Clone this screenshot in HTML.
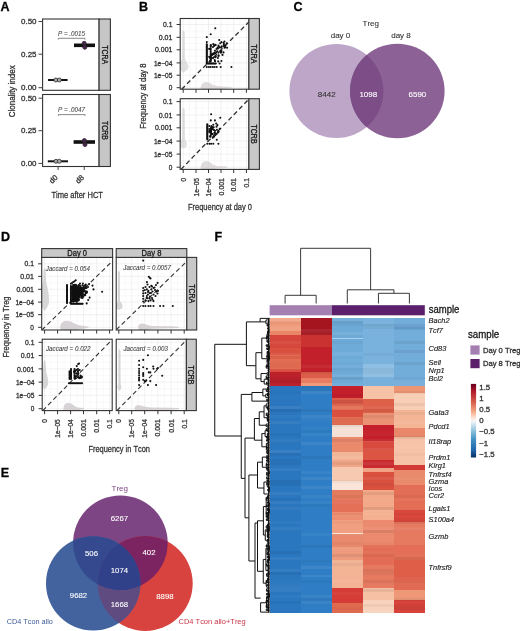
<!DOCTYPE html>
<html><head><meta charset="utf-8"><style>
html,body{margin:0;padding:0;background:#fff;}
svg{display:block;will-change:transform;filter:blur(0.35px);}
text{font-family:"Liberation Sans", sans-serif;font-variant-ligatures:none;font-kerning:none;}
.e{stroke-width:0.25px;paint-order:stroke;}
</style></head><body>
<svg width="520" height="631" viewBox="0 0 520 631">
<rect x="0" y="0" width="520" height="631" fill="#fff"/>
<text x="0.60" y="11.00" font-size="12.5" text-anchor="start" fill="#000" font-weight="bold" stroke="#000" stroke-width="0.3" >A</text>
<text x="139.00" y="11.00" font-size="12.5" text-anchor="start" fill="#000" font-weight="bold" stroke="#000" stroke-width="0.3" >B</text>
<text x="293.50" y="11.20" font-size="12.5" text-anchor="start" fill="#000" font-weight="bold" stroke="#000" stroke-width="0.3" >C</text>
<text x="1.00" y="241.00" font-size="12.5" text-anchor="start" fill="#000" font-weight="bold" stroke="#000" stroke-width="0.3" >D</text>
<text x="0.80" y="477.00" font-size="12.5" text-anchor="start" fill="#000" font-weight="bold" stroke="#000" stroke-width="0.3" >E</text>
<text x="214.50" y="241.00" font-size="12.5" text-anchor="start" fill="#000" font-weight="bold" stroke="#000" stroke-width="0.3" >F</text>
<text x="15.50" y="91.30" font-size="9.5" text-anchor="middle" fill="#333" stroke="#333" stroke-width="0.3" textLength="52" lengthAdjust="spacingAndGlyphs" transform="rotate(-90 15.50 91.30)" >Clonality index</text>
<rect x="42.60" y="19.00" width="56.50" height="71.30" fill="#fff" stroke="#333" stroke-width="1.1" />
<rect x="99.10" y="19.00" width="11.30" height="71.30" fill="#c6c6c6" stroke="#333" stroke-width="1.1" />
<text x="102.40" y="54.65" font-size="8.4" text-anchor="middle" fill="#1a1a1a" stroke="#1a1a1a" stroke-width="0.3" textLength="18.8" lengthAdjust="spacingAndGlyphs" transform="rotate(90 102.40 54.65)" >TCRA</text>
<line x1="38.50" y1="21.50" x2="42.60" y2="21.50" stroke="#444" stroke-width="1" />
<text x="36.50" y="24.20" font-size="8" text-anchor="end" fill="#333" stroke="#333" stroke-width="0.3" textLength="15.5" lengthAdjust="spacingAndGlyphs" >0.50</text>
<line x1="38.50" y1="54.20" x2="42.60" y2="54.20" stroke="#444" stroke-width="1" />
<text x="36.50" y="56.90" font-size="8" text-anchor="end" fill="#333" stroke="#333" stroke-width="0.3" textLength="15.5" lengthAdjust="spacingAndGlyphs" >0.25</text>
<line x1="38.50" y1="87.70" x2="42.60" y2="87.70" stroke="#444" stroke-width="1" />
<text x="36.50" y="90.40" font-size="8" text-anchor="end" fill="#333" stroke="#333" stroke-width="0.3" textLength="15.5" lengthAdjust="spacingAndGlyphs" >0.00</text>
<rect x="42.60" y="94.50" width="56.50" height="72.00" fill="#fff" stroke="#333" stroke-width="1.1" />
<rect x="99.10" y="94.50" width="11.30" height="72.00" fill="#c6c6c6" stroke="#333" stroke-width="1.1" />
<text x="102.40" y="130.50" font-size="8.4" text-anchor="middle" fill="#1a1a1a" stroke="#1a1a1a" stroke-width="0.3" textLength="18.8" lengthAdjust="spacingAndGlyphs" transform="rotate(90 102.40 130.50)" >TCRB</text>
<line x1="38.50" y1="98.20" x2="42.60" y2="98.20" stroke="#444" stroke-width="1" />
<text x="36.50" y="100.90" font-size="8" text-anchor="end" fill="#333" stroke="#333" stroke-width="0.3" textLength="15.5" lengthAdjust="spacingAndGlyphs" >0.50</text>
<line x1="38.50" y1="130.70" x2="42.60" y2="130.70" stroke="#444" stroke-width="1" />
<text x="36.50" y="133.40" font-size="8" text-anchor="end" fill="#333" stroke="#333" stroke-width="0.3" textLength="15.5" lengthAdjust="spacingAndGlyphs" >0.25</text>
<line x1="38.50" y1="163.40" x2="42.60" y2="163.40" stroke="#444" stroke-width="1" />
<text x="36.50" y="166.10" font-size="8" text-anchor="end" fill="#333" stroke="#333" stroke-width="0.3" textLength="15.5" lengthAdjust="spacingAndGlyphs" >0.00</text>
<line x1="58.10" y1="166.50" x2="58.10" y2="170.00" stroke="#444" stroke-width="1" />
<line x1="84.20" y1="166.50" x2="84.20" y2="170.00" stroke="#444" stroke-width="1" />
<text x="58.30" y="178.00" font-size="7.6" text-anchor="end" fill="#333" stroke="#333" stroke-width="0.3" transform="rotate(-45 58.30 178.00)" >d0</text>
<text x="84.40" y="178.00" font-size="7.6" text-anchor="end" fill="#333" stroke="#333" stroke-width="0.3" transform="rotate(-45 84.40 178.00)" >d8</text>
<text x="77.20" y="197.50" font-size="9.5" text-anchor="middle" fill="#333" stroke="#333" stroke-width="0.3" textLength="51.5" lengthAdjust="spacingAndGlyphs" >Time after HCT</text>
<line x1="48.00" y1="80.00" x2="67.60" y2="80.00" stroke="#111" stroke-width="2" />
<circle cx="55.80" cy="80.00" r="2.00" fill="#a9a9a9" stroke="#2a2a2a" stroke-width="0.8" />
<circle cx="59.30" cy="80.00" r="2.00" fill="#a9a9a9" stroke="#2a2a2a" stroke-width="0.8" />
<line x1="74.00" y1="45.30" x2="95.00" y2="45.30" stroke="#111" stroke-width="3.6" />
<circle cx="84.20" cy="43.30" r="2.00" fill="#4a2350" stroke="#2a2a2a" stroke-width="0.8" />
<circle cx="84.80" cy="47.30" r="2.00" fill="#4a2350" stroke="#2a2a2a" stroke-width="0.8" />
<line x1="47.80" y1="161.30" x2="68.00" y2="161.30" stroke="#111" stroke-width="2" />
<circle cx="56.00" cy="161.30" r="2.00" fill="#a9a9a9" stroke="#2a2a2a" stroke-width="0.8" />
<circle cx="59.30" cy="161.30" r="2.00" fill="#a9a9a9" stroke="#2a2a2a" stroke-width="0.8" />
<line x1="73.60" y1="142.00" x2="95.00" y2="142.00" stroke="#111" stroke-width="3.6" />
<circle cx="84.40" cy="140.50" r="2.00" fill="#4a2350" stroke="#2a2a2a" stroke-width="0.8" />
<circle cx="85.00" cy="144.60" r="2.00" fill="#4a2350" stroke="#2a2a2a" stroke-width="0.8" />
<text x="71.50" y="36.30" font-size="7" text-anchor="middle" fill="#4a4a4a" stroke="#4a4a4a" stroke-width="0.1" font-style="italic" textLength="27" lengthAdjust="spacingAndGlyphs" >P = .0015</text>
<path d="M58.3,39.599999999999994 L58.3,38.3 L85,38.3 L85,39.599999999999994" fill="none" stroke="#555" stroke-width="0.7"/>
<text x="71.50" y="111.60" font-size="7" text-anchor="middle" fill="#4a4a4a" stroke="#4a4a4a" stroke-width="0.1" font-style="italic" textLength="27" lengthAdjust="spacingAndGlyphs" >P = .0047</text>
<path d="M58.3,115.89999999999999 L58.3,114.6 L85,114.6 L85,115.89999999999999" fill="none" stroke="#555" stroke-width="0.7"/>
<text x="146.40" y="96.10" font-size="9.3" text-anchor="middle" fill="#333" stroke="#333" stroke-width="0.3" textLength="65.3" lengthAdjust="spacingAndGlyphs" transform="rotate(-90 146.40 96.10)" >Frequency at day 8</text>
<defs><clipPath id="sp1"><rect x="180.2" y="18.5" width="68.70000000000002" height="70.7"/></clipPath></defs>
<rect x="180.20" y="18.50" width="68.70" height="70.70" fill="#fff" stroke="none" stroke-width="1" />
<line x1="189.60" y1="18.50" x2="189.60" y2="89.20" stroke="#f3f3f3" stroke-width="0.5" />
<line x1="202.25" y1="18.50" x2="202.25" y2="89.20" stroke="#f3f3f3" stroke-width="0.5" />
<line x1="214.75" y1="18.50" x2="214.75" y2="89.20" stroke="#f3f3f3" stroke-width="0.5" />
<line x1="227.35" y1="18.50" x2="227.35" y2="89.20" stroke="#f3f3f3" stroke-width="0.5" />
<line x1="240.05" y1="18.50" x2="240.05" y2="89.20" stroke="#f3f3f3" stroke-width="0.5" />
<line x1="180.20" y1="81.45" x2="248.90" y2="81.45" stroke="#f3f3f3" stroke-width="0.5" />
<line x1="180.20" y1="69.05" x2="248.90" y2="69.05" stroke="#f3f3f3" stroke-width="0.5" />
<line x1="180.20" y1="56.35" x2="248.90" y2="56.35" stroke="#f3f3f3" stroke-width="0.5" />
<line x1="180.20" y1="43.55" x2="248.90" y2="43.55" stroke="#f3f3f3" stroke-width="0.5" />
<line x1="180.20" y1="30.90" x2="248.90" y2="30.90" stroke="#f3f3f3" stroke-width="0.5" />
<line x1="183.20" y1="18.50" x2="183.20" y2="89.20" stroke="#e8e8e8" stroke-width="0.6" />
<line x1="196.00" y1="18.50" x2="196.00" y2="89.20" stroke="#e8e8e8" stroke-width="0.6" />
<line x1="208.50" y1="18.50" x2="208.50" y2="89.20" stroke="#e8e8e8" stroke-width="0.6" />
<line x1="221.00" y1="18.50" x2="221.00" y2="89.20" stroke="#e8e8e8" stroke-width="0.6" />
<line x1="233.70" y1="18.50" x2="233.70" y2="89.20" stroke="#e8e8e8" stroke-width="0.6" />
<line x1="246.40" y1="18.50" x2="246.40" y2="89.20" stroke="#e8e8e8" stroke-width="0.6" />
<line x1="180.20" y1="87.70" x2="248.90" y2="87.70" stroke="#e8e8e8" stroke-width="0.6" />
<line x1="180.20" y1="75.20" x2="248.90" y2="75.20" stroke="#e8e8e8" stroke-width="0.6" />
<line x1="180.20" y1="62.90" x2="248.90" y2="62.90" stroke="#e8e8e8" stroke-width="0.6" />
<line x1="180.20" y1="49.80" x2="248.90" y2="49.80" stroke="#e8e8e8" stroke-width="0.6" />
<line x1="180.20" y1="37.30" x2="248.90" y2="37.30" stroke="#e8e8e8" stroke-width="0.6" />
<line x1="180.20" y1="24.50" x2="248.90" y2="24.50" stroke="#e8e8e8" stroke-width="0.6" />
<g clip-path="url(#sp1)">
<path d="M183.20,30.50 L182.20,32.00 L182.10,58.00 L181.30,60.50 L179.70,63.00 L178.50,66.00 L178.90,68.50 L180.70,70.50 L182.70,72.00 L183.50,73.00 L183.50,73.00 L184.30,72.00 L186.30,70.50 L188.10,68.50 L188.50,66.00 L187.30,63.00 L185.70,60.50 L184.90,58.00 L184.80,32.00 L183.80,30.50 Z" fill="#cdcdcd" fill-opacity="0.62" stroke="none"/>
<path d="M200.50,87.60 L201.50,84.60 L204.00,82.40 L207.00,82.00 L210.00,83.10 L213.00,85.00 L217.00,86.00 L224.00,86.40 L231.00,87.00 L232.00,87.60 L232.00,87.60 L231.00,88.20 L224.00,88.80 L217.00,89.20 L213.00,90.20 L210.00,92.10 L207.00,93.20 L204.00,92.80 L201.50,90.60 L200.50,87.60 Z" fill="#cdc7ca" fill-opacity="0.62" stroke="none"/>
<line x1="181.70" y1="89.20" x2="248.90" y2="22.00" stroke="#333" stroke-width="1.3" stroke-dasharray="4.6,3"/>
<circle cx="206.80" cy="44.20" r="1.05" fill="#111" stroke="none" stroke-width="1" />
<circle cx="206.80" cy="45.10" r="1.05" fill="#111" stroke="none" stroke-width="1" />
<circle cx="206.80" cy="46.00" r="1.05" fill="#111" stroke="none" stroke-width="1" />
<circle cx="206.80" cy="46.90" r="1.05" fill="#111" stroke="none" stroke-width="1" />
<circle cx="206.80" cy="47.80" r="1.05" fill="#111" stroke="none" stroke-width="1" />
<circle cx="206.80" cy="48.70" r="1.05" fill="#111" stroke="none" stroke-width="1" />
<circle cx="206.80" cy="49.60" r="1.05" fill="#111" stroke="none" stroke-width="1" />
<circle cx="206.80" cy="50.50" r="1.05" fill="#111" stroke="none" stroke-width="1" />
<circle cx="206.80" cy="51.40" r="1.05" fill="#111" stroke="none" stroke-width="1" />
<circle cx="206.80" cy="52.30" r="1.05" fill="#111" stroke="none" stroke-width="1" />
<circle cx="206.80" cy="53.20" r="1.05" fill="#111" stroke="none" stroke-width="1" />
<circle cx="206.80" cy="54.10" r="1.05" fill="#111" stroke="none" stroke-width="1" />
<circle cx="206.80" cy="55.00" r="1.05" fill="#111" stroke="none" stroke-width="1" />
<circle cx="206.80" cy="55.90" r="1.05" fill="#111" stroke="none" stroke-width="1" />
<circle cx="206.80" cy="56.80" r="1.05" fill="#111" stroke="none" stroke-width="1" />
<circle cx="206.80" cy="57.70" r="1.05" fill="#111" stroke="none" stroke-width="1" />
<circle cx="206.80" cy="58.60" r="1.05" fill="#111" stroke="none" stroke-width="1" />
<circle cx="206.80" cy="59.50" r="1.05" fill="#111" stroke="none" stroke-width="1" />
<circle cx="206.80" cy="60.40" r="1.05" fill="#111" stroke="none" stroke-width="1" />
<circle cx="206.80" cy="61.30" r="1.05" fill="#111" stroke="none" stroke-width="1" />
<circle cx="206.80" cy="62.20" r="1.05" fill="#111" stroke="none" stroke-width="1" />
<circle cx="206.80" cy="63.10" r="1.05" fill="#111" stroke="none" stroke-width="1" />
<circle cx="206.80" cy="37.10" r="1.05" fill="#111" stroke="none" stroke-width="1" />
<circle cx="206.80" cy="42.10" r="1.05" fill="#111" stroke="none" stroke-width="1" />
<circle cx="206.80" cy="63.50" r="1.05" fill="#111" stroke="none" stroke-width="1" />
<circle cx="207.70" cy="63.50" r="1.05" fill="#111" stroke="none" stroke-width="1" />
<circle cx="208.60" cy="63.50" r="1.05" fill="#111" stroke="none" stroke-width="1" />
<circle cx="209.50" cy="63.50" r="1.05" fill="#111" stroke="none" stroke-width="1" />
<circle cx="210.40" cy="63.50" r="1.05" fill="#111" stroke="none" stroke-width="1" />
<circle cx="211.30" cy="63.50" r="1.05" fill="#111" stroke="none" stroke-width="1" />
<circle cx="212.20" cy="63.50" r="1.05" fill="#111" stroke="none" stroke-width="1" />
<circle cx="213.10" cy="63.50" r="1.05" fill="#111" stroke="none" stroke-width="1" />
<circle cx="214.00" cy="63.50" r="1.05" fill="#111" stroke="none" stroke-width="1" />
<circle cx="214.90" cy="63.50" r="1.05" fill="#111" stroke="none" stroke-width="1" />
<circle cx="215.80" cy="63.50" r="1.05" fill="#111" stroke="none" stroke-width="1" />
<circle cx="206.80" cy="67.00" r="1.05" fill="#111" stroke="none" stroke-width="1" />
<circle cx="208.90" cy="67.00" r="1.05" fill="#111" stroke="none" stroke-width="1" />
<circle cx="210.70" cy="67.00" r="1.05" fill="#111" stroke="none" stroke-width="1" />
<circle cx="212.80" cy="67.00" r="1.05" fill="#111" stroke="none" stroke-width="1" />
<circle cx="214.60" cy="67.00" r="1.05" fill="#111" stroke="none" stroke-width="1" />
<circle cx="216.70" cy="67.00" r="1.05" fill="#111" stroke="none" stroke-width="1" />
<circle cx="220.70" cy="67.00" r="1.05" fill="#111" stroke="none" stroke-width="1" />
<circle cx="231.40" cy="67.00" r="1.05" fill="#111" stroke="none" stroke-width="1" />
<circle cx="210.70" cy="45.00" r="1.05" fill="#111" stroke="none" stroke-width="1" />
<circle cx="210.70" cy="46.60" r="1.05" fill="#111" stroke="none" stroke-width="1" />
<circle cx="210.70" cy="48.20" r="1.05" fill="#111" stroke="none" stroke-width="1" />
<circle cx="210.70" cy="49.80" r="1.05" fill="#111" stroke="none" stroke-width="1" />
<circle cx="210.70" cy="51.40" r="1.05" fill="#111" stroke="none" stroke-width="1" />
<circle cx="210.70" cy="53.00" r="1.05" fill="#111" stroke="none" stroke-width="1" />
<circle cx="210.70" cy="54.60" r="1.05" fill="#111" stroke="none" stroke-width="1" />
<circle cx="210.70" cy="56.20" r="1.05" fill="#111" stroke="none" stroke-width="1" />
<circle cx="210.70" cy="57.80" r="1.05" fill="#111" stroke="none" stroke-width="1" />
<circle cx="210.70" cy="59.40" r="1.05" fill="#111" stroke="none" stroke-width="1" />
<circle cx="210.70" cy="61.00" r="1.05" fill="#111" stroke="none" stroke-width="1" />
<circle cx="211.00" cy="56.00" r="1.05" fill="#111" stroke="none" stroke-width="1" />
<circle cx="212.10" cy="54.90" r="1.05" fill="#111" stroke="none" stroke-width="1" />
<circle cx="213.20" cy="53.80" r="1.05" fill="#111" stroke="none" stroke-width="1" />
<circle cx="214.30" cy="52.70" r="1.05" fill="#111" stroke="none" stroke-width="1" />
<circle cx="213.00" cy="47.00" r="1.05" fill="#111" stroke="none" stroke-width="1" />
<circle cx="214.10" cy="45.90" r="1.05" fill="#111" stroke="none" stroke-width="1" />
<circle cx="215.20" cy="44.80" r="1.05" fill="#111" stroke="none" stroke-width="1" />
<circle cx="215.00" cy="53.50" r="1.05" fill="#111" stroke="none" stroke-width="1" />
<circle cx="216.10" cy="52.40" r="1.05" fill="#111" stroke="none" stroke-width="1" />
<circle cx="217.20" cy="51.30" r="1.05" fill="#111" stroke="none" stroke-width="1" />
<circle cx="217.87" cy="57.94" r="1.05" fill="#111" stroke="none" stroke-width="1" />
<circle cx="225.33" cy="47.08" r="1.05" fill="#111" stroke="none" stroke-width="1" />
<circle cx="220.24" cy="43.31" r="1.05" fill="#111" stroke="none" stroke-width="1" />
<circle cx="209.46" cy="49.07" r="1.05" fill="#111" stroke="none" stroke-width="1" />
<circle cx="221.69" cy="46.30" r="1.05" fill="#111" stroke="none" stroke-width="1" />
<circle cx="217.53" cy="47.67" r="1.05" fill="#111" stroke="none" stroke-width="1" />
<circle cx="210.06" cy="58.06" r="1.05" fill="#111" stroke="none" stroke-width="1" />
<circle cx="223.88" cy="44.17" r="1.05" fill="#111" stroke="none" stroke-width="1" />
<circle cx="220.99" cy="52.74" r="1.05" fill="#111" stroke="none" stroke-width="1" />
<circle cx="225.24" cy="45.41" r="1.05" fill="#111" stroke="none" stroke-width="1" />
<circle cx="219.86" cy="47.49" r="1.05" fill="#111" stroke="none" stroke-width="1" />
<circle cx="210.39" cy="60.74" r="1.05" fill="#111" stroke="none" stroke-width="1" />
<circle cx="211.41" cy="58.06" r="1.05" fill="#111" stroke="none" stroke-width="1" />
<circle cx="209.30" cy="48.82" r="1.05" fill="#111" stroke="none" stroke-width="1" />
<circle cx="209.88" cy="56.79" r="1.05" fill="#111" stroke="none" stroke-width="1" />
<circle cx="215.03" cy="61.15" r="1.05" fill="#111" stroke="none" stroke-width="1" />
<circle cx="215.37" cy="57.26" r="1.05" fill="#111" stroke="none" stroke-width="1" />
<circle cx="223.75" cy="46.02" r="1.05" fill="#111" stroke="none" stroke-width="1" />
<circle cx="217.96" cy="48.55" r="1.05" fill="#111" stroke="none" stroke-width="1" />
<circle cx="213.54" cy="57.52" r="1.05" fill="#111" stroke="none" stroke-width="1" />
<circle cx="212.28" cy="53.68" r="1.05" fill="#111" stroke="none" stroke-width="1" />
<circle cx="218.44" cy="52.62" r="1.05" fill="#111" stroke="none" stroke-width="1" />
<circle cx="211.20" cy="54.83" r="1.05" fill="#111" stroke="none" stroke-width="1" />
<circle cx="224.58" cy="47.70" r="1.05" fill="#111" stroke="none" stroke-width="1" />
<circle cx="214.65" cy="60.09" r="1.05" fill="#111" stroke="none" stroke-width="1" />
<circle cx="218.83" cy="46.72" r="1.05" fill="#111" stroke="none" stroke-width="1" />
<circle cx="209.17" cy="56.82" r="1.05" fill="#111" stroke="none" stroke-width="1" />
<circle cx="214.92" cy="50.81" r="1.05" fill="#111" stroke="none" stroke-width="1" />
<circle cx="213.63" cy="54.30" r="1.05" fill="#111" stroke="none" stroke-width="1" />
<circle cx="221.39" cy="47.51" r="1.05" fill="#111" stroke="none" stroke-width="1" />
<circle cx="210.28" cy="61.72" r="1.05" fill="#111" stroke="none" stroke-width="1" />
<circle cx="224.47" cy="41.43" r="1.05" fill="#111" stroke="none" stroke-width="1" />
<circle cx="218.59" cy="55.41" r="1.05" fill="#111" stroke="none" stroke-width="1" />
<circle cx="215.85" cy="56.36" r="1.05" fill="#111" stroke="none" stroke-width="1" />
<circle cx="215.66" cy="45.11" r="1.05" fill="#111" stroke="none" stroke-width="1" />
<circle cx="213.27" cy="44.17" r="1.05" fill="#111" stroke="none" stroke-width="1" />
<circle cx="210.88" cy="45.46" r="1.05" fill="#111" stroke="none" stroke-width="1" />
<circle cx="215.30" cy="28.20" r="1.05" fill="#111" stroke="none" stroke-width="1" />
<circle cx="210.70" cy="34.30" r="1.05" fill="#111" stroke="none" stroke-width="1" />
<circle cx="219.20" cy="40.00" r="1.05" fill="#111" stroke="none" stroke-width="1" />
<circle cx="221.40" cy="42.10" r="1.05" fill="#111" stroke="none" stroke-width="1" />
<circle cx="223.50" cy="42.80" r="1.05" fill="#111" stroke="none" stroke-width="1" />
<circle cx="226.70" cy="43.20" r="1.05" fill="#111" stroke="none" stroke-width="1" />
<circle cx="227.10" cy="47.80" r="1.05" fill="#111" stroke="none" stroke-width="1" />
<circle cx="220.70" cy="51.40" r="1.05" fill="#111" stroke="none" stroke-width="1" />
<circle cx="221.50" cy="51.00" r="1.05" fill="#111" stroke="none" stroke-width="1" />
<circle cx="220.50" cy="52.00" r="1.05" fill="#111" stroke="none" stroke-width="1" />
<circle cx="223.50" cy="52.40" r="1.05" fill="#111" stroke="none" stroke-width="1" />
<circle cx="222.50" cy="54.90" r="1.05" fill="#111" stroke="none" stroke-width="1" />
<circle cx="218.20" cy="61.40" r="1.05" fill="#111" stroke="none" stroke-width="1" />
<circle cx="221.40" cy="61.00" r="1.05" fill="#111" stroke="none" stroke-width="1" />
<circle cx="219.60" cy="63.50" r="1.05" fill="#111" stroke="none" stroke-width="1" />
<circle cx="224.00" cy="46.00" r="1.05" fill="#111" stroke="none" stroke-width="1" />
<circle cx="218.50" cy="45.50" r="1.05" fill="#111" stroke="none" stroke-width="1" />
<circle cx="216.50" cy="49.00" r="1.05" fill="#111" stroke="none" stroke-width="1" />
<circle cx="218.50" cy="56.00" r="1.05" fill="#111" stroke="none" stroke-width="1" />
<circle cx="213.00" cy="58.00" r="1.05" fill="#111" stroke="none" stroke-width="1" />
</g>
<rect x="180.20" y="18.50" width="68.70" height="70.70" fill="none" stroke="#333" stroke-width="1.1" />
<rect x="248.90" y="18.50" width="10.50" height="70.70" fill="#c8c8c8" stroke="#333" stroke-width="1.1" />
<text x="251.15" y="53.85" font-size="8.4" text-anchor="middle" fill="#1a1a1a" stroke="#1a1a1a" stroke-width="0.3" textLength="19" lengthAdjust="spacingAndGlyphs" transform="rotate(90 251.15 53.85)" >TCRA</text>
<line x1="176.60" y1="87.70" x2="180.20" y2="87.70" stroke="#333" stroke-width="1" />
<text x="172.40" y="90.30" font-size="7.2" text-anchor="end" fill="#333" stroke="#333" stroke-width="0.3" textLength="3.6" lengthAdjust="spacingAndGlyphs" >0</text>
<line x1="176.60" y1="75.20" x2="180.20" y2="75.20" stroke="#333" stroke-width="1" />
<text x="172.40" y="77.80" font-size="7.2" text-anchor="end" fill="#333" stroke="#333" stroke-width="0.3" textLength="18.5" lengthAdjust="spacingAndGlyphs" >1e&#8722;05</text>
<line x1="176.60" y1="62.90" x2="180.20" y2="62.90" stroke="#333" stroke-width="1" />
<text x="172.40" y="65.50" font-size="7.2" text-anchor="end" fill="#333" stroke="#333" stroke-width="0.3" textLength="18.5" lengthAdjust="spacingAndGlyphs" >1e&#8722;04</text>
<line x1="176.60" y1="49.80" x2="180.20" y2="49.80" stroke="#333" stroke-width="1" />
<text x="172.40" y="52.40" font-size="7.2" text-anchor="end" fill="#333" stroke="#333" stroke-width="0.3" textLength="17.4" lengthAdjust="spacingAndGlyphs" >0.001</text>
<line x1="176.60" y1="37.30" x2="180.20" y2="37.30" stroke="#333" stroke-width="1" />
<text x="172.40" y="39.90" font-size="7.2" text-anchor="end" fill="#333" stroke="#333" stroke-width="0.3" textLength="13.6" lengthAdjust="spacingAndGlyphs" >0.01</text>
<line x1="176.60" y1="24.50" x2="180.20" y2="24.50" stroke="#333" stroke-width="1" />
<text x="172.40" y="27.10" font-size="7.2" text-anchor="end" fill="#333" stroke="#333" stroke-width="0.3" textLength="9.4" lengthAdjust="spacingAndGlyphs" >0.1</text>
<line x1="183.20" y1="89.20" x2="183.20" y2="92.80" stroke="#333" stroke-width="1" />
<line x1="196.00" y1="89.20" x2="196.00" y2="92.80" stroke="#333" stroke-width="1" />
<line x1="208.50" y1="89.20" x2="208.50" y2="92.80" stroke="#333" stroke-width="1" />
<line x1="221.00" y1="89.20" x2="221.00" y2="92.80" stroke="#333" stroke-width="1" />
<line x1="233.70" y1="89.20" x2="233.70" y2="92.80" stroke="#333" stroke-width="1" />
<line x1="246.40" y1="89.20" x2="246.40" y2="92.80" stroke="#333" stroke-width="1" />
<defs><clipPath id="sp2"><rect x="180.2" y="98.7" width="68.70000000000002" height="70.7"/></clipPath></defs>
<rect x="180.20" y="98.70" width="68.70" height="70.70" fill="#fff" stroke="none" stroke-width="1" />
<line x1="189.60" y1="98.70" x2="189.60" y2="169.40" stroke="#f3f3f3" stroke-width="0.5" />
<line x1="202.25" y1="98.70" x2="202.25" y2="169.40" stroke="#f3f3f3" stroke-width="0.5" />
<line x1="214.75" y1="98.70" x2="214.75" y2="169.40" stroke="#f3f3f3" stroke-width="0.5" />
<line x1="227.35" y1="98.70" x2="227.35" y2="169.40" stroke="#f3f3f3" stroke-width="0.5" />
<line x1="240.05" y1="98.70" x2="240.05" y2="169.40" stroke="#f3f3f3" stroke-width="0.5" />
<line x1="180.20" y1="160.65" x2="248.90" y2="160.65" stroke="#f3f3f3" stroke-width="0.5" />
<line x1="180.20" y1="147.60" x2="248.90" y2="147.60" stroke="#f3f3f3" stroke-width="0.5" />
<line x1="180.20" y1="134.45" x2="248.90" y2="134.45" stroke="#f3f3f3" stroke-width="0.5" />
<line x1="180.20" y1="121.35" x2="248.90" y2="121.35" stroke="#f3f3f3" stroke-width="0.5" />
<line x1="180.20" y1="108.25" x2="248.90" y2="108.25" stroke="#f3f3f3" stroke-width="0.5" />
<line x1="183.20" y1="98.70" x2="183.20" y2="169.40" stroke="#e8e8e8" stroke-width="0.6" />
<line x1="196.00" y1="98.70" x2="196.00" y2="169.40" stroke="#e8e8e8" stroke-width="0.6" />
<line x1="208.50" y1="98.70" x2="208.50" y2="169.40" stroke="#e8e8e8" stroke-width="0.6" />
<line x1="221.00" y1="98.70" x2="221.00" y2="169.40" stroke="#e8e8e8" stroke-width="0.6" />
<line x1="233.70" y1="98.70" x2="233.70" y2="169.40" stroke="#e8e8e8" stroke-width="0.6" />
<line x1="246.40" y1="98.70" x2="246.40" y2="169.40" stroke="#e8e8e8" stroke-width="0.6" />
<line x1="180.20" y1="167.20" x2="248.90" y2="167.20" stroke="#e8e8e8" stroke-width="0.6" />
<line x1="180.20" y1="154.10" x2="248.90" y2="154.10" stroke="#e8e8e8" stroke-width="0.6" />
<line x1="180.20" y1="141.10" x2="248.90" y2="141.10" stroke="#e8e8e8" stroke-width="0.6" />
<line x1="180.20" y1="127.80" x2="248.90" y2="127.80" stroke="#e8e8e8" stroke-width="0.6" />
<line x1="180.20" y1="114.90" x2="248.90" y2="114.90" stroke="#e8e8e8" stroke-width="0.6" />
<line x1="180.20" y1="101.60" x2="248.90" y2="101.60" stroke="#e8e8e8" stroke-width="0.6" />
<g clip-path="url(#sp2)">
<path d="M183.20,108.00 L182.20,109.50 L182.10,138.00 L181.30,140.50 L180.30,143.00 L180.10,145.50 L181.50,147.50 L183.50,148.50 L183.50,148.50 L185.50,147.50 L186.90,145.50 L186.70,143.00 L185.70,140.50 L184.90,138.00 L184.80,109.50 L183.80,108.00 Z" fill="#cdcdcd" fill-opacity="0.62" stroke="none"/>
<path d="M200.50,167.20 L201.50,163.70 L204.00,161.40 L207.00,161.00 L210.00,162.20 L213.00,164.60 L217.00,165.90 L226.50,166.40 L227.50,167.20 L227.50,167.20 L226.50,168.00 L217.00,168.50 L213.00,169.80 L210.00,172.20 L207.00,173.40 L204.00,173.00 L201.50,170.70 L200.50,167.20 Z" fill="#cdc7ca" fill-opacity="0.62" stroke="none"/>
<line x1="181.00" y1="169.40" x2="248.90" y2="99.11" stroke="#333" stroke-width="1.3" stroke-dasharray="4.6,3"/>
<circle cx="207.30" cy="124.20" r="1.05" fill="#111" stroke="none" stroke-width="1" />
<circle cx="207.30" cy="125.10" r="1.05" fill="#111" stroke="none" stroke-width="1" />
<circle cx="207.30" cy="126.00" r="1.05" fill="#111" stroke="none" stroke-width="1" />
<circle cx="207.30" cy="126.90" r="1.05" fill="#111" stroke="none" stroke-width="1" />
<circle cx="207.30" cy="127.80" r="1.05" fill="#111" stroke="none" stroke-width="1" />
<circle cx="207.30" cy="128.70" r="1.05" fill="#111" stroke="none" stroke-width="1" />
<circle cx="207.30" cy="129.60" r="1.05" fill="#111" stroke="none" stroke-width="1" />
<circle cx="207.30" cy="130.50" r="1.05" fill="#111" stroke="none" stroke-width="1" />
<circle cx="207.30" cy="131.40" r="1.05" fill="#111" stroke="none" stroke-width="1" />
<circle cx="207.30" cy="132.30" r="1.05" fill="#111" stroke="none" stroke-width="1" />
<circle cx="207.30" cy="133.20" r="1.05" fill="#111" stroke="none" stroke-width="1" />
<circle cx="207.30" cy="134.10" r="1.05" fill="#111" stroke="none" stroke-width="1" />
<circle cx="207.30" cy="135.00" r="1.05" fill="#111" stroke="none" stroke-width="1" />
<circle cx="207.30" cy="135.90" r="1.05" fill="#111" stroke="none" stroke-width="1" />
<circle cx="207.30" cy="136.80" r="1.05" fill="#111" stroke="none" stroke-width="1" />
<circle cx="207.30" cy="137.70" r="1.05" fill="#111" stroke="none" stroke-width="1" />
<circle cx="207.30" cy="138.60" r="1.05" fill="#111" stroke="none" stroke-width="1" />
<circle cx="207.30" cy="139.50" r="1.05" fill="#111" stroke="none" stroke-width="1" />
<circle cx="211.10" cy="127.60" r="1.05" fill="#111" stroke="none" stroke-width="1" />
<circle cx="211.10" cy="128.60" r="1.05" fill="#111" stroke="none" stroke-width="1" />
<circle cx="211.10" cy="129.60" r="1.05" fill="#111" stroke="none" stroke-width="1" />
<circle cx="211.10" cy="130.60" r="1.05" fill="#111" stroke="none" stroke-width="1" />
<circle cx="211.10" cy="131.60" r="1.05" fill="#111" stroke="none" stroke-width="1" />
<circle cx="211.10" cy="132.60" r="1.05" fill="#111" stroke="none" stroke-width="1" />
<circle cx="211.10" cy="133.60" r="1.05" fill="#111" stroke="none" stroke-width="1" />
<circle cx="211.10" cy="134.60" r="1.05" fill="#111" stroke="none" stroke-width="1" />
<circle cx="211.10" cy="114.30" r="1.05" fill="#111" stroke="none" stroke-width="1" />
<circle cx="220.30" cy="117.80" r="1.05" fill="#111" stroke="none" stroke-width="1" />
<circle cx="210.80" cy="120.40" r="1.05" fill="#111" stroke="none" stroke-width="1" />
<circle cx="214.90" cy="120.40" r="1.05" fill="#111" stroke="none" stroke-width="1" />
<circle cx="213.30" cy="124.80" r="1.05" fill="#111" stroke="none" stroke-width="1" />
<circle cx="216.20" cy="123.50" r="1.05" fill="#111" stroke="none" stroke-width="1" />
<circle cx="216.80" cy="139.70" r="1.05" fill="#111" stroke="none" stroke-width="1" />
<circle cx="207.30" cy="143.80" r="1.05" fill="#111" stroke="none" stroke-width="1" />
<circle cx="209.50" cy="143.80" r="1.05" fill="#111" stroke="none" stroke-width="1" />
<circle cx="211.10" cy="143.80" r="1.05" fill="#111" stroke="none" stroke-width="1" />
<circle cx="213.30" cy="143.80" r="1.05" fill="#111" stroke="none" stroke-width="1" />
<circle cx="218.40" cy="143.80" r="1.05" fill="#111" stroke="none" stroke-width="1" />
<circle cx="215.25" cy="133.18" r="1.05" fill="#111" stroke="none" stroke-width="1" />
<circle cx="212.47" cy="127.37" r="1.05" fill="#111" stroke="none" stroke-width="1" />
<circle cx="212.13" cy="129.17" r="1.05" fill="#111" stroke="none" stroke-width="1" />
<circle cx="212.93" cy="129.29" r="1.05" fill="#111" stroke="none" stroke-width="1" />
<circle cx="210.29" cy="130.21" r="1.05" fill="#111" stroke="none" stroke-width="1" />
<circle cx="212.73" cy="134.11" r="1.05" fill="#111" stroke="none" stroke-width="1" />
<circle cx="211.42" cy="126.13" r="1.05" fill="#111" stroke="none" stroke-width="1" />
<circle cx="211.43" cy="133.68" r="1.05" fill="#111" stroke="none" stroke-width="1" />
<circle cx="213.66" cy="136.74" r="1.05" fill="#111" stroke="none" stroke-width="1" />
<circle cx="218.64" cy="131.63" r="1.05" fill="#111" stroke="none" stroke-width="1" />
<circle cx="210.19" cy="136.65" r="1.05" fill="#111" stroke="none" stroke-width="1" />
<circle cx="218.07" cy="131.34" r="1.05" fill="#111" stroke="none" stroke-width="1" />
<circle cx="216.90" cy="129.78" r="1.05" fill="#111" stroke="none" stroke-width="1" />
<circle cx="211.79" cy="133.72" r="1.05" fill="#111" stroke="none" stroke-width="1" />
<circle cx="213.68" cy="127.22" r="1.05" fill="#111" stroke="none" stroke-width="1" />
<circle cx="216.52" cy="126.67" r="1.05" fill="#111" stroke="none" stroke-width="1" />
<circle cx="217.46" cy="125.11" r="1.05" fill="#111" stroke="none" stroke-width="1" />
<circle cx="214.45" cy="132.68" r="1.05" fill="#111" stroke="none" stroke-width="1" />
<circle cx="210.44" cy="132.68" r="1.05" fill="#111" stroke="none" stroke-width="1" />
<circle cx="215.00" cy="130.91" r="1.05" fill="#111" stroke="none" stroke-width="1" />
<circle cx="219.69" cy="128.92" r="1.05" fill="#111" stroke="none" stroke-width="1" />
<circle cx="209.31" cy="131.03" r="1.05" fill="#111" stroke="none" stroke-width="1" />
<circle cx="210.36" cy="136.28" r="1.05" fill="#111" stroke="none" stroke-width="1" />
<circle cx="212.16" cy="127.05" r="1.05" fill="#111" stroke="none" stroke-width="1" />
<circle cx="212.70" cy="137.80" r="1.05" fill="#111" stroke="none" stroke-width="1" />
<circle cx="214.00" cy="136.50" r="1.05" fill="#111" stroke="none" stroke-width="1" />
<circle cx="215.30" cy="135.20" r="1.05" fill="#111" stroke="none" stroke-width="1" />
<circle cx="216.60" cy="133.90" r="1.05" fill="#111" stroke="none" stroke-width="1" />
<circle cx="217.90" cy="132.60" r="1.05" fill="#111" stroke="none" stroke-width="1" />
<circle cx="209.30" cy="126.00" r="1.05" fill="#111" stroke="none" stroke-width="1" />
<circle cx="209.30" cy="129.00" r="1.05" fill="#111" stroke="none" stroke-width="1" />
<circle cx="209.30" cy="132.00" r="1.05" fill="#111" stroke="none" stroke-width="1" />
<circle cx="210.50" cy="136.00" r="1.05" fill="#111" stroke="none" stroke-width="1" />
<circle cx="212.50" cy="128.00" r="1.05" fill="#111" stroke="none" stroke-width="1" />
<circle cx="214.00" cy="130.00" r="1.05" fill="#111" stroke="none" stroke-width="1" />
</g>
<rect x="180.20" y="98.70" width="68.70" height="70.70" fill="none" stroke="#333" stroke-width="1.1" />
<rect x="248.90" y="98.70" width="10.50" height="70.70" fill="#c8c8c8" stroke="#333" stroke-width="1.1" />
<text x="251.15" y="134.05" font-size="8.4" text-anchor="middle" fill="#1a1a1a" stroke="#1a1a1a" stroke-width="0.3" textLength="19" lengthAdjust="spacingAndGlyphs" transform="rotate(90 251.15 134.05)" >TCRB</text>
<line x1="176.60" y1="167.20" x2="180.20" y2="167.20" stroke="#333" stroke-width="1" />
<text x="172.40" y="169.80" font-size="7.2" text-anchor="end" fill="#333" stroke="#333" stroke-width="0.3" textLength="3.6" lengthAdjust="spacingAndGlyphs" >0</text>
<line x1="176.60" y1="154.10" x2="180.20" y2="154.10" stroke="#333" stroke-width="1" />
<text x="172.40" y="156.70" font-size="7.2" text-anchor="end" fill="#333" stroke="#333" stroke-width="0.3" textLength="18.5" lengthAdjust="spacingAndGlyphs" >1e&#8722;05</text>
<line x1="176.60" y1="141.10" x2="180.20" y2="141.10" stroke="#333" stroke-width="1" />
<text x="172.40" y="143.70" font-size="7.2" text-anchor="end" fill="#333" stroke="#333" stroke-width="0.3" textLength="18.5" lengthAdjust="spacingAndGlyphs" >1e&#8722;04</text>
<line x1="176.60" y1="127.80" x2="180.20" y2="127.80" stroke="#333" stroke-width="1" />
<text x="172.40" y="130.40" font-size="7.2" text-anchor="end" fill="#333" stroke="#333" stroke-width="0.3" textLength="17.4" lengthAdjust="spacingAndGlyphs" >0.001</text>
<line x1="176.60" y1="114.90" x2="180.20" y2="114.90" stroke="#333" stroke-width="1" />
<text x="172.40" y="117.50" font-size="7.2" text-anchor="end" fill="#333" stroke="#333" stroke-width="0.3" textLength="13.6" lengthAdjust="spacingAndGlyphs" >0.01</text>
<line x1="176.60" y1="101.60" x2="180.20" y2="101.60" stroke="#333" stroke-width="1" />
<text x="172.40" y="104.20" font-size="7.2" text-anchor="end" fill="#333" stroke="#333" stroke-width="0.3" textLength="9.4" lengthAdjust="spacingAndGlyphs" >0.1</text>
<line x1="183.20" y1="169.40" x2="183.20" y2="173.00" stroke="#333" stroke-width="1" />
<text x="185.80" y="178.00" font-size="7.2" text-anchor="end" fill="#333" stroke="#333" stroke-width="0.3" textLength="3.6" lengthAdjust="spacingAndGlyphs" transform="rotate(-90 185.80 178.00)" >0</text>
<line x1="196.00" y1="169.40" x2="196.00" y2="173.00" stroke="#333" stroke-width="1" />
<text x="198.60" y="178.00" font-size="7.2" text-anchor="end" fill="#333" stroke="#333" stroke-width="0.3" textLength="18.5" lengthAdjust="spacingAndGlyphs" transform="rotate(-90 198.60 178.00)" >1e&#8722;05</text>
<line x1="208.50" y1="169.40" x2="208.50" y2="173.00" stroke="#333" stroke-width="1" />
<text x="211.10" y="178.00" font-size="7.2" text-anchor="end" fill="#333" stroke="#333" stroke-width="0.3" textLength="18.5" lengthAdjust="spacingAndGlyphs" transform="rotate(-90 211.10 178.00)" >1e&#8722;04</text>
<line x1="221.00" y1="169.40" x2="221.00" y2="173.00" stroke="#333" stroke-width="1" />
<text x="223.60" y="178.00" font-size="7.2" text-anchor="end" fill="#333" stroke="#333" stroke-width="0.3" textLength="17.4" lengthAdjust="spacingAndGlyphs" transform="rotate(-90 223.60 178.00)" >0.001</text>
<line x1="233.70" y1="169.40" x2="233.70" y2="173.00" stroke="#333" stroke-width="1" />
<text x="236.30" y="178.00" font-size="7.2" text-anchor="end" fill="#333" stroke="#333" stroke-width="0.3" textLength="13.6" lengthAdjust="spacingAndGlyphs" transform="rotate(-90 236.30 178.00)" >0.01</text>
<line x1="246.40" y1="169.40" x2="246.40" y2="173.00" stroke="#333" stroke-width="1" />
<text x="249.00" y="178.00" font-size="7.2" text-anchor="end" fill="#333" stroke="#333" stroke-width="0.3" textLength="9.4" lengthAdjust="spacingAndGlyphs" transform="rotate(-90 249.00 178.00)" >0.1</text>
<text x="220.00" y="209.60" font-size="9.5" text-anchor="middle" fill="#333" stroke="#333" stroke-width="0.3" textLength="64" lengthAdjust="spacingAndGlyphs" >Frequency at day 0</text>
<defs><clipPath id="cL"><circle cx="336.4" cy="91" r="47"/></clipPath></defs>
<circle cx="336.40" cy="91.00" r="47.00" fill="#bea6c8" stroke="none" stroke-width="1" />
<circle cx="397.30" cy="91.00" r="47.30" fill="#8c6195" stroke="none" stroke-width="1" />
<circle cx="397.3" cy="91" r="47.3" fill="#7c4d87" clip-path="url(#cL)"/>
<text x="370.80" y="25.80" font-size="8" text-anchor="middle" fill="#333" stroke="#333" stroke-width="0.1" >Treg</text>
<text x="340.50" y="38.20" font-size="8" text-anchor="middle" fill="#333" stroke="#333" stroke-width="0.1" >day 0</text>
<text x="401.00" y="38.20" font-size="8" text-anchor="middle" fill="#333" stroke="#333" stroke-width="0.1" >day 8</text>
<text x="326.70" y="97.00" font-size="8" text-anchor="middle" fill="#333" stroke="#333" stroke-width="0.1" >8442</text>
<text x="368.30" y="97.00" font-size="8" text-anchor="middle" fill="#fff" stroke="#fff" stroke-width="0.1" >1098</text>
<text x="417.40" y="97.00" font-size="8" text-anchor="middle" fill="#fff" stroke="#fff" stroke-width="0.1" >6590</text>
<text x="8.60" y="327.00" font-size="9.5" text-anchor="middle" fill="#333" stroke="#333" stroke-width="0.3" textLength="61" lengthAdjust="spacingAndGlyphs" transform="rotate(-90 8.60 327.00)" >Frequency in Treg</text>
<defs><clipPath id="sp3"><rect x="41.7" y="257.4" width="70.89999999999999" height="72.60000000000002"/></clipPath></defs>
<rect x="41.70" y="257.40" width="70.90" height="72.60" fill="#fff" stroke="none" stroke-width="1" />
<line x1="51.10" y1="257.40" x2="51.10" y2="330.00" stroke="#f3f3f3" stroke-width="0.5" />
<line x1="64.10" y1="257.40" x2="64.10" y2="330.00" stroke="#f3f3f3" stroke-width="0.5" />
<line x1="77.05" y1="257.40" x2="77.05" y2="330.00" stroke="#f3f3f3" stroke-width="0.5" />
<line x1="90.10" y1="257.40" x2="90.10" y2="330.00" stroke="#f3f3f3" stroke-width="0.5" />
<line x1="103.15" y1="257.40" x2="103.15" y2="330.00" stroke="#f3f3f3" stroke-width="0.5" />
<line x1="41.70" y1="321.00" x2="112.60" y2="321.00" stroke="#f3f3f3" stroke-width="0.5" />
<line x1="41.70" y1="308.40" x2="112.60" y2="308.40" stroke="#f3f3f3" stroke-width="0.5" />
<line x1="41.70" y1="295.70" x2="112.60" y2="295.70" stroke="#f3f3f3" stroke-width="0.5" />
<line x1="41.70" y1="282.85" x2="112.60" y2="282.85" stroke="#f3f3f3" stroke-width="0.5" />
<line x1="41.70" y1="270.10" x2="112.60" y2="270.10" stroke="#f3f3f3" stroke-width="0.5" />
<line x1="44.60" y1="257.40" x2="44.60" y2="330.00" stroke="#e8e8e8" stroke-width="0.6" />
<line x1="57.60" y1="257.40" x2="57.60" y2="330.00" stroke="#e8e8e8" stroke-width="0.6" />
<line x1="70.60" y1="257.40" x2="70.60" y2="330.00" stroke="#e8e8e8" stroke-width="0.6" />
<line x1="83.50" y1="257.40" x2="83.50" y2="330.00" stroke="#e8e8e8" stroke-width="0.6" />
<line x1="96.70" y1="257.40" x2="96.70" y2="330.00" stroke="#e8e8e8" stroke-width="0.6" />
<line x1="109.60" y1="257.40" x2="109.60" y2="330.00" stroke="#e8e8e8" stroke-width="0.6" />
<line x1="41.70" y1="327.30" x2="112.60" y2="327.30" stroke="#e8e8e8" stroke-width="0.6" />
<line x1="41.70" y1="314.70" x2="112.60" y2="314.70" stroke="#e8e8e8" stroke-width="0.6" />
<line x1="41.70" y1="302.10" x2="112.60" y2="302.10" stroke="#e8e8e8" stroke-width="0.6" />
<line x1="41.70" y1="289.30" x2="112.60" y2="289.30" stroke="#e8e8e8" stroke-width="0.6" />
<line x1="41.70" y1="276.40" x2="112.60" y2="276.40" stroke="#e8e8e8" stroke-width="0.6" />
<line x1="41.70" y1="263.80" x2="112.60" y2="263.80" stroke="#e8e8e8" stroke-width="0.6" />
<g clip-path="url(#sp3)">
<path d="M44.40,268.00 L43.60,270.00 L43.10,281.00 L41.80,287.00 L40.70,293.00 L40.00,299.00 L40.40,304.00 L42.00,307.00 L43.80,310.00 L44.60,311.00 L44.60,311.00 L45.40,310.00 L47.20,307.00 L48.80,304.00 L49.20,299.00 L48.50,293.00 L47.40,287.00 L46.10,281.00 L45.60,270.00 L44.80,268.00 Z" fill="#cdcdcd" fill-opacity="0.8" stroke="none"/>
<path d="M60.00,327.30 L61.00,323.80 L63.50,321.30 L67.00,320.80 L71.00,321.80 L75.00,323.80 L79.00,325.30 L85.00,326.10 L88.00,326.80 L89.00,327.30 L89.00,327.30 L88.00,327.80 L85.00,328.50 L79.00,329.30 L75.00,330.80 L71.00,332.80 L67.00,333.80 L63.50,333.30 L61.00,330.80 L60.00,327.30 Z" fill="#cdc7ca" fill-opacity="0.8" stroke="none"/>
<line x1="41.84" y1="330.00" x2="112.60" y2="260.87" stroke="#333" stroke-width="1.1" stroke-dasharray="4.6,3"/>
<path d="M72,301.5 L72,286.5 L75,285.5 L79,286.5 L83,288 L84.5,290.5 L82.5,294 L79,297.5 L75.5,300.5 Z" fill="#111" stroke="none"/>
<circle cx="67.00" cy="285.10" r="1.05" fill="#111" stroke="none" stroke-width="1" />
<circle cx="67.00" cy="286.00" r="1.05" fill="#111" stroke="none" stroke-width="1" />
<circle cx="67.00" cy="286.90" r="1.05" fill="#111" stroke="none" stroke-width="1" />
<circle cx="67.00" cy="287.80" r="1.05" fill="#111" stroke="none" stroke-width="1" />
<circle cx="67.00" cy="288.70" r="1.05" fill="#111" stroke="none" stroke-width="1" />
<circle cx="67.00" cy="289.60" r="1.05" fill="#111" stroke="none" stroke-width="1" />
<circle cx="67.00" cy="290.50" r="1.05" fill="#111" stroke="none" stroke-width="1" />
<circle cx="67.00" cy="291.40" r="1.05" fill="#111" stroke="none" stroke-width="1" />
<circle cx="67.00" cy="292.30" r="1.05" fill="#111" stroke="none" stroke-width="1" />
<circle cx="67.00" cy="293.20" r="1.05" fill="#111" stroke="none" stroke-width="1" />
<circle cx="67.00" cy="294.10" r="1.05" fill="#111" stroke="none" stroke-width="1" />
<circle cx="67.00" cy="295.00" r="1.05" fill="#111" stroke="none" stroke-width="1" />
<circle cx="67.00" cy="295.90" r="1.05" fill="#111" stroke="none" stroke-width="1" />
<circle cx="67.00" cy="296.80" r="1.05" fill="#111" stroke="none" stroke-width="1" />
<circle cx="67.00" cy="297.70" r="1.05" fill="#111" stroke="none" stroke-width="1" />
<circle cx="67.00" cy="298.60" r="1.05" fill="#111" stroke="none" stroke-width="1" />
<circle cx="67.00" cy="299.50" r="1.05" fill="#111" stroke="none" stroke-width="1" />
<circle cx="67.00" cy="300.40" r="1.05" fill="#111" stroke="none" stroke-width="1" />
<circle cx="67.00" cy="301.30" r="1.05" fill="#111" stroke="none" stroke-width="1" />
<circle cx="67.00" cy="302.20" r="1.05" fill="#111" stroke="none" stroke-width="1" />
<circle cx="67.00" cy="303.10" r="1.05" fill="#111" stroke="none" stroke-width="1" />
<circle cx="70.90" cy="286.00" r="1.05" fill="#111" stroke="none" stroke-width="1" />
<circle cx="70.90" cy="286.90" r="1.05" fill="#111" stroke="none" stroke-width="1" />
<circle cx="70.90" cy="287.80" r="1.05" fill="#111" stroke="none" stroke-width="1" />
<circle cx="70.90" cy="288.70" r="1.05" fill="#111" stroke="none" stroke-width="1" />
<circle cx="70.90" cy="289.60" r="1.05" fill="#111" stroke="none" stroke-width="1" />
<circle cx="70.90" cy="290.50" r="1.05" fill="#111" stroke="none" stroke-width="1" />
<circle cx="70.90" cy="291.40" r="1.05" fill="#111" stroke="none" stroke-width="1" />
<circle cx="70.90" cy="292.30" r="1.05" fill="#111" stroke="none" stroke-width="1" />
<circle cx="70.90" cy="293.20" r="1.05" fill="#111" stroke="none" stroke-width="1" />
<circle cx="70.90" cy="294.10" r="1.05" fill="#111" stroke="none" stroke-width="1" />
<circle cx="70.90" cy="295.00" r="1.05" fill="#111" stroke="none" stroke-width="1" />
<circle cx="70.90" cy="295.90" r="1.05" fill="#111" stroke="none" stroke-width="1" />
<circle cx="70.90" cy="296.80" r="1.05" fill="#111" stroke="none" stroke-width="1" />
<circle cx="70.90" cy="297.70" r="1.05" fill="#111" stroke="none" stroke-width="1" />
<circle cx="70.90" cy="298.60" r="1.05" fill="#111" stroke="none" stroke-width="1" />
<circle cx="70.90" cy="299.50" r="1.05" fill="#111" stroke="none" stroke-width="1" />
<circle cx="70.90" cy="300.40" r="1.05" fill="#111" stroke="none" stroke-width="1" />
<circle cx="70.90" cy="301.30" r="1.05" fill="#111" stroke="none" stroke-width="1" />
<circle cx="70.90" cy="302.20" r="1.05" fill="#111" stroke="none" stroke-width="1" />
<circle cx="70.90" cy="303.70" r="1.05" fill="#111" stroke="none" stroke-width="1" />
<circle cx="71.80" cy="303.70" r="1.05" fill="#111" stroke="none" stroke-width="1" />
<circle cx="72.70" cy="303.70" r="1.05" fill="#111" stroke="none" stroke-width="1" />
<circle cx="73.60" cy="303.70" r="1.05" fill="#111" stroke="none" stroke-width="1" />
<circle cx="74.50" cy="303.70" r="1.05" fill="#111" stroke="none" stroke-width="1" />
<circle cx="75.40" cy="303.70" r="1.05" fill="#111" stroke="none" stroke-width="1" />
<circle cx="76.30" cy="303.70" r="1.05" fill="#111" stroke="none" stroke-width="1" />
<circle cx="77.20" cy="303.70" r="1.05" fill="#111" stroke="none" stroke-width="1" />
<circle cx="78.10" cy="303.70" r="1.05" fill="#111" stroke="none" stroke-width="1" />
<circle cx="79.00" cy="303.70" r="1.05" fill="#111" stroke="none" stroke-width="1" />
<circle cx="79.90" cy="303.70" r="1.05" fill="#111" stroke="none" stroke-width="1" />
<circle cx="80.80" cy="303.70" r="1.05" fill="#111" stroke="none" stroke-width="1" />
<circle cx="81.70" cy="303.70" r="1.05" fill="#111" stroke="none" stroke-width="1" />
<circle cx="82.60" cy="303.70" r="1.05" fill="#111" stroke="none" stroke-width="1" />
<circle cx="71.30" cy="300.50" r="1.05" fill="#111" stroke="none" stroke-width="1" />
<circle cx="72.20" cy="300.50" r="1.05" fill="#111" stroke="none" stroke-width="1" />
<circle cx="73.10" cy="300.50" r="1.05" fill="#111" stroke="none" stroke-width="1" />
<circle cx="74.00" cy="300.50" r="1.05" fill="#111" stroke="none" stroke-width="1" />
<circle cx="74.90" cy="300.50" r="1.05" fill="#111" stroke="none" stroke-width="1" />
<circle cx="75.80" cy="300.50" r="1.05" fill="#111" stroke="none" stroke-width="1" />
<circle cx="76.70" cy="300.50" r="1.05" fill="#111" stroke="none" stroke-width="1" />
<circle cx="77.60" cy="300.50" r="1.05" fill="#111" stroke="none" stroke-width="1" />
<circle cx="78.50" cy="300.50" r="1.05" fill="#111" stroke="none" stroke-width="1" />
<circle cx="70.90" cy="283.70" r="1.05" fill="#111" stroke="none" stroke-width="1" />
<circle cx="72.10" cy="282.90" r="1.05" fill="#111" stroke="none" stroke-width="1" />
<circle cx="73.30" cy="282.00" r="1.05" fill="#111" stroke="none" stroke-width="1" />
<circle cx="74.50" cy="281.20" r="1.05" fill="#111" stroke="none" stroke-width="1" />
<circle cx="75.70" cy="280.30" r="1.05" fill="#111" stroke="none" stroke-width="1" />
<circle cx="80.00" cy="283.50" r="1.05" fill="#111" stroke="none" stroke-width="1" />
<circle cx="82.90" cy="283.50" r="1.05" fill="#111" stroke="none" stroke-width="1" />
<circle cx="85.80" cy="284.60" r="1.05" fill="#111" stroke="none" stroke-width="1" />
<circle cx="89.10" cy="284.10" r="1.05" fill="#111" stroke="none" stroke-width="1" />
<circle cx="92.50" cy="285.60" r="1.05" fill="#111" stroke="none" stroke-width="1" />
<circle cx="93.50" cy="289.40" r="1.05" fill="#111" stroke="none" stroke-width="1" />
<circle cx="86.70" cy="291.80" r="1.05" fill="#111" stroke="none" stroke-width="1" />
<circle cx="89.60" cy="297.60" r="1.05" fill="#111" stroke="none" stroke-width="1" />
<circle cx="88.20" cy="300.00" r="1.05" fill="#111" stroke="none" stroke-width="1" />
<circle cx="86.70" cy="303.40" r="1.05" fill="#111" stroke="none" stroke-width="1" />
<circle cx="102.10" cy="291.80" r="1.05" fill="#111" stroke="none" stroke-width="1" />
<circle cx="84.00" cy="286.00" r="1.05" fill="#111" stroke="none" stroke-width="1" />
<circle cx="86.50" cy="288.00" r="1.05" fill="#111" stroke="none" stroke-width="1" />
<circle cx="88.00" cy="287.00" r="1.05" fill="#111" stroke="none" stroke-width="1" />
<circle cx="84.50" cy="295.50" r="1.05" fill="#111" stroke="none" stroke-width="1" />
<circle cx="82.50" cy="298.00" r="1.05" fill="#111" stroke="none" stroke-width="1" />
<circle cx="78.79" cy="294.30" r="1.05" fill="#111" stroke="none" stroke-width="1" />
<circle cx="85.86" cy="292.65" r="1.05" fill="#111" stroke="none" stroke-width="1" />
<circle cx="79.62" cy="294.78" r="1.05" fill="#111" stroke="none" stroke-width="1" />
<circle cx="74.77" cy="293.46" r="1.05" fill="#111" stroke="none" stroke-width="1" />
<circle cx="73.41" cy="289.81" r="1.05" fill="#111" stroke="none" stroke-width="1" />
<circle cx="73.36" cy="298.67" r="1.05" fill="#111" stroke="none" stroke-width="1" />
<circle cx="82.40" cy="285.23" r="1.05" fill="#111" stroke="none" stroke-width="1" />
<circle cx="81.81" cy="295.27" r="1.05" fill="#111" stroke="none" stroke-width="1" />
<circle cx="74.36" cy="284.76" r="1.05" fill="#111" stroke="none" stroke-width="1" />
<circle cx="79.93" cy="285.54" r="1.05" fill="#111" stroke="none" stroke-width="1" />
<circle cx="74.85" cy="288.73" r="1.05" fill="#111" stroke="none" stroke-width="1" />
<circle cx="72.45" cy="292.62" r="1.05" fill="#111" stroke="none" stroke-width="1" />
<circle cx="78.61" cy="299.24" r="1.05" fill="#111" stroke="none" stroke-width="1" />
<circle cx="79.79" cy="295.71" r="1.05" fill="#111" stroke="none" stroke-width="1" />
<circle cx="79.50" cy="296.09" r="1.05" fill="#111" stroke="none" stroke-width="1" />
<circle cx="78.86" cy="289.37" r="1.05" fill="#111" stroke="none" stroke-width="1" />
<circle cx="76.73" cy="288.52" r="1.05" fill="#111" stroke="none" stroke-width="1" />
<circle cx="76.34" cy="285.73" r="1.05" fill="#111" stroke="none" stroke-width="1" />
<circle cx="83.49" cy="291.51" r="1.05" fill="#111" stroke="none" stroke-width="1" />
<circle cx="84.70" cy="291.26" r="1.05" fill="#111" stroke="none" stroke-width="1" />
<circle cx="72.01" cy="288.17" r="1.05" fill="#111" stroke="none" stroke-width="1" />
<circle cx="85.65" cy="292.72" r="1.05" fill="#111" stroke="none" stroke-width="1" />
<circle cx="86.71" cy="291.45" r="1.05" fill="#111" stroke="none" stroke-width="1" />
<circle cx="73.10" cy="295.52" r="1.05" fill="#111" stroke="none" stroke-width="1" />
<circle cx="83.68" cy="289.22" r="1.05" fill="#111" stroke="none" stroke-width="1" />
<circle cx="73.31" cy="290.32" r="1.05" fill="#111" stroke="none" stroke-width="1" />
<circle cx="73.77" cy="288.81" r="1.05" fill="#111" stroke="none" stroke-width="1" />
<circle cx="73.52" cy="285.55" r="1.05" fill="#111" stroke="none" stroke-width="1" />
<circle cx="83.96" cy="287.61" r="1.05" fill="#111" stroke="none" stroke-width="1" />
<circle cx="80.39" cy="292.33" r="1.05" fill="#111" stroke="none" stroke-width="1" />
<circle cx="74.86" cy="297.31" r="1.05" fill="#111" stroke="none" stroke-width="1" />
<circle cx="73.96" cy="295.77" r="1.05" fill="#111" stroke="none" stroke-width="1" />
<circle cx="73.75" cy="291.86" r="1.05" fill="#111" stroke="none" stroke-width="1" />
<circle cx="75.19" cy="289.22" r="1.05" fill="#111" stroke="none" stroke-width="1" />
<circle cx="76.56" cy="299.99" r="1.05" fill="#111" stroke="none" stroke-width="1" />
<circle cx="75.16" cy="291.40" r="1.05" fill="#111" stroke="none" stroke-width="1" />
<circle cx="73.50" cy="301.81" r="1.05" fill="#111" stroke="none" stroke-width="1" />
<circle cx="75.20" cy="289.02" r="1.05" fill="#111" stroke="none" stroke-width="1" />
<circle cx="83.59" cy="290.26" r="1.05" fill="#111" stroke="none" stroke-width="1" />
<circle cx="76.44" cy="285.78" r="1.05" fill="#111" stroke="none" stroke-width="1" />
<circle cx="73.35" cy="294.70" r="1.05" fill="#111" stroke="none" stroke-width="1" />
<circle cx="75.65" cy="295.02" r="1.05" fill="#111" stroke="none" stroke-width="1" />
<circle cx="77.58" cy="292.43" r="1.05" fill="#111" stroke="none" stroke-width="1" />
<circle cx="86.39" cy="292.97" r="1.05" fill="#111" stroke="none" stroke-width="1" />
<circle cx="74.74" cy="287.20" r="1.05" fill="#111" stroke="none" stroke-width="1" />
<circle cx="75.74" cy="287.82" r="1.05" fill="#111" stroke="none" stroke-width="1" />
<circle cx="74.95" cy="301.13" r="1.05" fill="#111" stroke="none" stroke-width="1" />
<circle cx="85.23" cy="295.06" r="1.05" fill="#111" stroke="none" stroke-width="1" />
<circle cx="78.32" cy="286.32" r="1.05" fill="#111" stroke="none" stroke-width="1" />
<circle cx="72.58" cy="301.35" r="1.05" fill="#111" stroke="none" stroke-width="1" />
<circle cx="75.58" cy="296.83" r="1.05" fill="#111" stroke="none" stroke-width="1" />
<circle cx="75.85" cy="298.92" r="1.05" fill="#111" stroke="none" stroke-width="1" />
<circle cx="80.95" cy="289.64" r="1.05" fill="#111" stroke="none" stroke-width="1" />
<circle cx="74.63" cy="297.11" r="1.05" fill="#111" stroke="none" stroke-width="1" />
<circle cx="73.03" cy="288.50" r="1.05" fill="#111" stroke="none" stroke-width="1" />
<circle cx="81.21" cy="289.40" r="1.05" fill="#111" stroke="none" stroke-width="1" />
<circle cx="85.76" cy="288.07" r="1.05" fill="#111" stroke="none" stroke-width="1" />
<circle cx="72.25" cy="289.21" r="1.05" fill="#111" stroke="none" stroke-width="1" />
<circle cx="78.69" cy="285.56" r="1.05" fill="#111" stroke="none" stroke-width="1" />
<circle cx="74.64" cy="290.95" r="1.05" fill="#111" stroke="none" stroke-width="1" />
<circle cx="80.58" cy="286.80" r="1.05" fill="#111" stroke="none" stroke-width="1" />
<circle cx="77.43" cy="300.09" r="1.05" fill="#111" stroke="none" stroke-width="1" />
<circle cx="82.37" cy="294.73" r="1.05" fill="#111" stroke="none" stroke-width="1" />
<circle cx="74.11" cy="285.11" r="1.05" fill="#111" stroke="none" stroke-width="1" />
<circle cx="72.27" cy="300.43" r="1.05" fill="#111" stroke="none" stroke-width="1" />
<circle cx="72.32" cy="295.63" r="1.05" fill="#111" stroke="none" stroke-width="1" />
<circle cx="79.23" cy="297.28" r="1.05" fill="#111" stroke="none" stroke-width="1" />
<circle cx="76.78" cy="301.99" r="1.05" fill="#111" stroke="none" stroke-width="1" />
<circle cx="73.13" cy="294.06" r="1.05" fill="#111" stroke="none" stroke-width="1" />
<circle cx="83.06" cy="296.81" r="1.05" fill="#111" stroke="none" stroke-width="1" />
<circle cx="77.28" cy="296.49" r="1.05" fill="#111" stroke="none" stroke-width="1" />
<circle cx="78.26" cy="298.33" r="1.05" fill="#111" stroke="none" stroke-width="1" />
<circle cx="84.95" cy="294.52" r="1.05" fill="#111" stroke="none" stroke-width="1" />
<circle cx="81.37" cy="291.19" r="1.05" fill="#111" stroke="none" stroke-width="1" />
<circle cx="80.74" cy="295.16" r="1.05" fill="#111" stroke="none" stroke-width="1" />
<circle cx="73.20" cy="295.69" r="1.05" fill="#111" stroke="none" stroke-width="1" />
<circle cx="82.92" cy="291.30" r="1.05" fill="#111" stroke="none" stroke-width="1" />
<circle cx="83.03" cy="294.67" r="1.05" fill="#111" stroke="none" stroke-width="1" />
<circle cx="78.61" cy="299.17" r="1.05" fill="#111" stroke="none" stroke-width="1" />
<circle cx="73.26" cy="297.63" r="1.05" fill="#111" stroke="none" stroke-width="1" />
<circle cx="72.45" cy="295.02" r="1.05" fill="#111" stroke="none" stroke-width="1" />
<circle cx="79.21" cy="288.53" r="1.05" fill="#111" stroke="none" stroke-width="1" />
<circle cx="82.48" cy="293.20" r="1.05" fill="#111" stroke="none" stroke-width="1" />
<circle cx="75.84" cy="284.70" r="1.05" fill="#111" stroke="none" stroke-width="1" />
<circle cx="76.52" cy="296.37" r="1.05" fill="#111" stroke="none" stroke-width="1" />
<circle cx="75.04" cy="287.47" r="1.05" fill="#111" stroke="none" stroke-width="1" />
<circle cx="78.63" cy="300.11" r="1.05" fill="#111" stroke="none" stroke-width="1" />
<circle cx="76.90" cy="296.15" r="1.05" fill="#111" stroke="none" stroke-width="1" />
<circle cx="74.98" cy="292.04" r="1.05" fill="#111" stroke="none" stroke-width="1" />
<circle cx="85.20" cy="291.23" r="1.05" fill="#111" stroke="none" stroke-width="1" />
<circle cx="80.75" cy="290.04" r="1.05" fill="#111" stroke="none" stroke-width="1" />
<circle cx="74.04" cy="293.19" r="1.05" fill="#111" stroke="none" stroke-width="1" />
<circle cx="76.15" cy="287.46" r="1.05" fill="#111" stroke="none" stroke-width="1" />
<circle cx="78.76" cy="289.32" r="1.05" fill="#111" stroke="none" stroke-width="1" />
<circle cx="75.21" cy="291.74" r="1.05" fill="#111" stroke="none" stroke-width="1" />
<circle cx="81.39" cy="293.14" r="1.05" fill="#111" stroke="none" stroke-width="1" />
<circle cx="76.73" cy="299.18" r="1.05" fill="#111" stroke="none" stroke-width="1" />
<circle cx="86.73" cy="292.42" r="1.05" fill="#111" stroke="none" stroke-width="1" />
<circle cx="73.12" cy="285.05" r="1.05" fill="#111" stroke="none" stroke-width="1" />
<circle cx="85.09" cy="285.23" r="1.05" fill="#111" stroke="none" stroke-width="1" />
<circle cx="82.63" cy="294.49" r="1.05" fill="#111" stroke="none" stroke-width="1" />
<circle cx="76.64" cy="298.35" r="1.05" fill="#111" stroke="none" stroke-width="1" />
<circle cx="72.29" cy="286.88" r="1.05" fill="#111" stroke="none" stroke-width="1" />
<circle cx="78.82" cy="284.93" r="1.05" fill="#111" stroke="none" stroke-width="1" />
<circle cx="84.45" cy="288.65" r="1.05" fill="#111" stroke="none" stroke-width="1" />
<circle cx="74.11" cy="285.32" r="1.05" fill="#111" stroke="none" stroke-width="1" />
<circle cx="81.44" cy="292.31" r="1.05" fill="#111" stroke="none" stroke-width="1" />
<circle cx="81.45" cy="295.96" r="1.05" fill="#111" stroke="none" stroke-width="1" />
<circle cx="82.27" cy="287.99" r="1.05" fill="#111" stroke="none" stroke-width="1" />
<circle cx="79.13" cy="287.63" r="1.05" fill="#111" stroke="none" stroke-width="1" />
<circle cx="72.16" cy="292.76" r="1.05" fill="#111" stroke="none" stroke-width="1" />
<circle cx="82.71" cy="287.63" r="1.05" fill="#111" stroke="none" stroke-width="1" />
<circle cx="76.09" cy="290.55" r="1.05" fill="#111" stroke="none" stroke-width="1" />
<circle cx="82.46" cy="293.61" r="1.05" fill="#111" stroke="none" stroke-width="1" />
<circle cx="81.22" cy="297.73" r="1.05" fill="#111" stroke="none" stroke-width="1" />
<circle cx="77.90" cy="298.36" r="1.05" fill="#111" stroke="none" stroke-width="1" />
<circle cx="85.59" cy="286.03" r="1.05" fill="#111" stroke="none" stroke-width="1" />
<circle cx="73.95" cy="292.44" r="1.05" fill="#111" stroke="none" stroke-width="1" />
<circle cx="77.65" cy="294.45" r="1.05" fill="#111" stroke="none" stroke-width="1" />
<circle cx="86.16" cy="292.61" r="1.05" fill="#111" stroke="none" stroke-width="1" />
<circle cx="81.77" cy="288.09" r="1.05" fill="#111" stroke="none" stroke-width="1" />
<circle cx="81.62" cy="297.06" r="1.05" fill="#111" stroke="none" stroke-width="1" />
</g>
<text x="45.80" y="270.50" font-size="7.2" text-anchor="start" fill="#444" stroke="#444" stroke-width="0.1" font-style="italic" textLength="44.2" lengthAdjust="spacingAndGlyphs" >Jaccard = 0.054</text>
<rect x="41.70" y="257.40" width="70.90" height="72.60" fill="none" stroke="#333" stroke-width="1.1" />
<rect x="41.70" y="248.60" width="70.90" height="8.80" fill="#c8c8c8" stroke="#333" stroke-width="1.1" />
<text x="77.15" y="255.80" font-size="8.4" text-anchor="middle" fill="#1a1a1a" stroke="#1a1a1a" stroke-width="0.3" textLength="19.7" lengthAdjust="spacingAndGlyphs" >Day 0</text>
<line x1="38.10" y1="327.30" x2="41.70" y2="327.30" stroke="#333" stroke-width="1" />
<text x="33.90" y="329.90" font-size="7.2" text-anchor="end" fill="#333" stroke="#333" stroke-width="0.3" textLength="3.6" lengthAdjust="spacingAndGlyphs" >0</text>
<line x1="38.10" y1="314.70" x2="41.70" y2="314.70" stroke="#333" stroke-width="1" />
<text x="33.90" y="317.30" font-size="7.2" text-anchor="end" fill="#333" stroke="#333" stroke-width="0.3" textLength="18.5" lengthAdjust="spacingAndGlyphs" >1e&#8722;05</text>
<line x1="38.10" y1="302.10" x2="41.70" y2="302.10" stroke="#333" stroke-width="1" />
<text x="33.90" y="304.70" font-size="7.2" text-anchor="end" fill="#333" stroke="#333" stroke-width="0.3" textLength="18.5" lengthAdjust="spacingAndGlyphs" >1e&#8722;04</text>
<line x1="38.10" y1="289.30" x2="41.70" y2="289.30" stroke="#333" stroke-width="1" />
<text x="33.90" y="291.90" font-size="7.2" text-anchor="end" fill="#333" stroke="#333" stroke-width="0.3" textLength="17.4" lengthAdjust="spacingAndGlyphs" >0.001</text>
<line x1="38.10" y1="276.40" x2="41.70" y2="276.40" stroke="#333" stroke-width="1" />
<text x="33.90" y="279.00" font-size="7.2" text-anchor="end" fill="#333" stroke="#333" stroke-width="0.3" textLength="13.6" lengthAdjust="spacingAndGlyphs" >0.01</text>
<line x1="38.10" y1="263.80" x2="41.70" y2="263.80" stroke="#333" stroke-width="1" />
<text x="33.90" y="266.40" font-size="7.2" text-anchor="end" fill="#333" stroke="#333" stroke-width="0.3" textLength="9.4" lengthAdjust="spacingAndGlyphs" >0.1</text>
<line x1="44.60" y1="330.00" x2="44.60" y2="333.60" stroke="#333" stroke-width="1" />
<line x1="57.60" y1="330.00" x2="57.60" y2="333.60" stroke="#333" stroke-width="1" />
<line x1="70.60" y1="330.00" x2="70.60" y2="333.60" stroke="#333" stroke-width="1" />
<line x1="83.50" y1="330.00" x2="83.50" y2="333.60" stroke="#333" stroke-width="1" />
<line x1="96.70" y1="330.00" x2="96.70" y2="333.60" stroke="#333" stroke-width="1" />
<line x1="109.60" y1="330.00" x2="109.60" y2="333.60" stroke="#333" stroke-width="1" />
<defs><clipPath id="sp4"><rect x="116.2" y="257.4" width="70.60000000000001" height="72.60000000000002"/></clipPath></defs>
<rect x="116.20" y="257.40" width="70.60" height="72.60" fill="#fff" stroke="none" stroke-width="1" />
<line x1="125.25" y1="257.40" x2="125.25" y2="330.00" stroke="#f3f3f3" stroke-width="0.5" />
<line x1="138.20" y1="257.40" x2="138.20" y2="330.00" stroke="#f3f3f3" stroke-width="0.5" />
<line x1="151.30" y1="257.40" x2="151.30" y2="330.00" stroke="#f3f3f3" stroke-width="0.5" />
<line x1="164.50" y1="257.40" x2="164.50" y2="330.00" stroke="#f3f3f3" stroke-width="0.5" />
<line x1="177.65" y1="257.40" x2="177.65" y2="330.00" stroke="#f3f3f3" stroke-width="0.5" />
<line x1="116.20" y1="321.00" x2="186.80" y2="321.00" stroke="#f3f3f3" stroke-width="0.5" />
<line x1="116.20" y1="308.40" x2="186.80" y2="308.40" stroke="#f3f3f3" stroke-width="0.5" />
<line x1="116.20" y1="295.70" x2="186.80" y2="295.70" stroke="#f3f3f3" stroke-width="0.5" />
<line x1="116.20" y1="282.85" x2="186.80" y2="282.85" stroke="#f3f3f3" stroke-width="0.5" />
<line x1="116.20" y1="270.10" x2="186.80" y2="270.10" stroke="#f3f3f3" stroke-width="0.5" />
<line x1="118.80" y1="257.40" x2="118.80" y2="330.00" stroke="#e8e8e8" stroke-width="0.6" />
<line x1="131.70" y1="257.40" x2="131.70" y2="330.00" stroke="#e8e8e8" stroke-width="0.6" />
<line x1="144.70" y1="257.40" x2="144.70" y2="330.00" stroke="#e8e8e8" stroke-width="0.6" />
<line x1="157.90" y1="257.40" x2="157.90" y2="330.00" stroke="#e8e8e8" stroke-width="0.6" />
<line x1="171.10" y1="257.40" x2="171.10" y2="330.00" stroke="#e8e8e8" stroke-width="0.6" />
<line x1="184.20" y1="257.40" x2="184.20" y2="330.00" stroke="#e8e8e8" stroke-width="0.6" />
<line x1="116.20" y1="327.30" x2="186.80" y2="327.30" stroke="#e8e8e8" stroke-width="0.6" />
<line x1="116.20" y1="314.70" x2="186.80" y2="314.70" stroke="#e8e8e8" stroke-width="0.6" />
<line x1="116.20" y1="302.10" x2="186.80" y2="302.10" stroke="#e8e8e8" stroke-width="0.6" />
<line x1="116.20" y1="289.30" x2="186.80" y2="289.30" stroke="#e8e8e8" stroke-width="0.6" />
<line x1="116.20" y1="276.40" x2="186.80" y2="276.40" stroke="#e8e8e8" stroke-width="0.6" />
<line x1="116.20" y1="263.80" x2="186.80" y2="263.80" stroke="#e8e8e8" stroke-width="0.6" />
<g clip-path="url(#sp4)">
<path d="M118.70,271.00 L117.90,272.00 L117.80,301.00 L116.40,303.00 L115.10,306.00 L115.90,308.50 L117.90,309.50 L118.90,310.00 L118.90,310.00 L119.90,309.50 L121.90,308.50 L122.70,306.00 L121.40,303.00 L120.00,301.00 L119.90,272.00 L119.10,271.00 Z" fill="#cdcdcd" fill-opacity="0.8" stroke="none"/>
<path d="M138.00,327.30 L139.00,324.80 L141.00,323.50 L144.00,323.80 L147.50,324.90 L152.00,325.90 L170.00,326.30 L178.30,326.70 L179.00,327.30 L179.00,327.30 L178.30,327.90 L170.00,328.30 L152.00,328.70 L147.50,329.70 L144.00,330.80 L141.00,331.10 L139.00,329.80 L138.00,327.30 Z" fill="#cdc7ca" fill-opacity="0.8" stroke="none"/>
<line x1="116.20" y1="329.82" x2="186.80" y2="261.38" stroke="#333" stroke-width="1.1" stroke-dasharray="4.6,3"/>
<circle cx="143.20" cy="288.00" r="1.05" fill="#111" stroke="none" stroke-width="1" />
<circle cx="143.20" cy="290.70" r="1.05" fill="#111" stroke="none" stroke-width="1" />
<circle cx="143.20" cy="293.40" r="1.05" fill="#111" stroke="none" stroke-width="1" />
<circle cx="143.20" cy="296.10" r="1.05" fill="#111" stroke="none" stroke-width="1" />
<circle cx="143.20" cy="298.80" r="1.05" fill="#111" stroke="none" stroke-width="1" />
<circle cx="143.20" cy="301.50" r="1.05" fill="#111" stroke="none" stroke-width="1" />
<circle cx="143.20" cy="260.60" r="1.05" fill="#111" stroke="none" stroke-width="1" />
<circle cx="148.80" cy="276.70" r="1.05" fill="#111" stroke="none" stroke-width="1" />
<circle cx="149.80" cy="277.70" r="1.05" fill="#111" stroke="none" stroke-width="1" />
<circle cx="150.50" cy="278.50" r="1.05" fill="#111" stroke="none" stroke-width="1" />
<circle cx="146.90" cy="282.10" r="1.05" fill="#111" stroke="none" stroke-width="1" />
<circle cx="151.30" cy="285.80" r="1.05" fill="#111" stroke="none" stroke-width="1" />
<circle cx="157.60" cy="282.90" r="1.05" fill="#111" stroke="none" stroke-width="1" />
<circle cx="146.90" cy="289.40" r="1.05" fill="#111" stroke="none" stroke-width="1" />
<circle cx="148.40" cy="290.90" r="1.05" fill="#111" stroke="none" stroke-width="1" />
<circle cx="149.80" cy="293.10" r="1.05" fill="#111" stroke="none" stroke-width="1" />
<circle cx="151.30" cy="289.40" r="1.05" fill="#111" stroke="none" stroke-width="1" />
<circle cx="153.50" cy="288.00" r="1.05" fill="#111" stroke="none" stroke-width="1" />
<circle cx="156.40" cy="291.60" r="1.05" fill="#111" stroke="none" stroke-width="1" />
<circle cx="157.90" cy="290.90" r="1.05" fill="#111" stroke="none" stroke-width="1" />
<circle cx="155.00" cy="290.00" r="1.05" fill="#111" stroke="none" stroke-width="1" />
<circle cx="152.50" cy="291.50" r="1.05" fill="#111" stroke="none" stroke-width="1" />
<circle cx="145.40" cy="300.40" r="1.05" fill="#111" stroke="none" stroke-width="1" />
<circle cx="148.40" cy="301.10" r="1.05" fill="#111" stroke="none" stroke-width="1" />
<circle cx="150.50" cy="300.40" r="1.05" fill="#111" stroke="none" stroke-width="1" />
<circle cx="153.50" cy="301.10" r="1.05" fill="#111" stroke="none" stroke-width="1" />
<circle cx="147.60" cy="298.20" r="1.05" fill="#111" stroke="none" stroke-width="1" />
<circle cx="146.90" cy="296.00" r="1.05" fill="#111" stroke="none" stroke-width="1" />
<circle cx="145.50" cy="293.00" r="1.05" fill="#111" stroke="none" stroke-width="1" />
<circle cx="148.00" cy="294.50" r="1.05" fill="#111" stroke="none" stroke-width="1" />
<circle cx="150.00" cy="296.50" r="1.05" fill="#111" stroke="none" stroke-width="1" />
<circle cx="152.00" cy="298.00" r="1.05" fill="#111" stroke="none" stroke-width="1" />
<circle cx="147.50" cy="284.50" r="1.05" fill="#111" stroke="none" stroke-width="1" />
<circle cx="149.50" cy="287.00" r="1.05" fill="#111" stroke="none" stroke-width="1" />
<circle cx="152.00" cy="286.50" r="1.05" fill="#111" stroke="none" stroke-width="1" />
<circle cx="154.50" cy="287.50" r="1.05" fill="#111" stroke="none" stroke-width="1" />
<circle cx="156.00" cy="285.00" r="1.05" fill="#111" stroke="none" stroke-width="1" />
<circle cx="145.50" cy="287.00" r="1.05" fill="#111" stroke="none" stroke-width="1" />
<circle cx="148.00" cy="292.00" r="1.05" fill="#111" stroke="none" stroke-width="1" />
<circle cx="151.00" cy="293.00" r="1.05" fill="#111" stroke="none" stroke-width="1" />
<circle cx="153.50" cy="294.50" r="1.05" fill="#111" stroke="none" stroke-width="1" />
<circle cx="155.50" cy="296.00" r="1.05" fill="#111" stroke="none" stroke-width="1" />
<circle cx="157.50" cy="293.50" r="1.05" fill="#111" stroke="none" stroke-width="1" />
<circle cx="146.50" cy="298.00" r="1.05" fill="#111" stroke="none" stroke-width="1" />
<circle cx="149.50" cy="298.50" r="1.05" fill="#111" stroke="none" stroke-width="1" />
<circle cx="152.50" cy="299.50" r="1.05" fill="#111" stroke="none" stroke-width="1" />
<circle cx="144.80" cy="290.00" r="1.05" fill="#111" stroke="none" stroke-width="1" />
<circle cx="143.20" cy="306.00" r="1.05" fill="#111" stroke="none" stroke-width="1" />
<circle cx="145.40" cy="306.00" r="1.05" fill="#111" stroke="none" stroke-width="1" />
<circle cx="148.40" cy="306.00" r="1.05" fill="#111" stroke="none" stroke-width="1" />
<circle cx="150.50" cy="306.00" r="1.05" fill="#111" stroke="none" stroke-width="1" />
<circle cx="153.50" cy="306.00" r="1.05" fill="#111" stroke="none" stroke-width="1" />
<circle cx="160.10" cy="306.00" r="1.05" fill="#111" stroke="none" stroke-width="1" />
<circle cx="163.40" cy="306.00" r="1.05" fill="#111" stroke="none" stroke-width="1" />
<circle cx="172.80" cy="306.00" r="1.05" fill="#111" stroke="none" stroke-width="1" />
</g>
<text x="123.30" y="270.30" font-size="7.2" text-anchor="start" fill="#444" stroke="#444" stroke-width="0.1" font-style="italic" textLength="47.6" lengthAdjust="spacingAndGlyphs" >Jaccard = 0.0057</text>
<rect x="116.20" y="257.40" width="70.60" height="72.60" fill="none" stroke="#333" stroke-width="1.1" />
<rect x="186.80" y="257.40" width="9.90" height="72.60" fill="#c8c8c8" stroke="#333" stroke-width="1.1" />
<text x="188.75" y="293.70" font-size="8.4" text-anchor="middle" fill="#1a1a1a" stroke="#1a1a1a" stroke-width="0.3" textLength="19" lengthAdjust="spacingAndGlyphs" transform="rotate(90 188.75 293.70)" >TCRA</text>
<rect x="116.20" y="248.60" width="70.60" height="8.80" fill="#c8c8c8" stroke="#333" stroke-width="1.1" />
<text x="151.50" y="255.80" font-size="8.4" text-anchor="middle" fill="#1a1a1a" stroke="#1a1a1a" stroke-width="0.3" textLength="20" lengthAdjust="spacingAndGlyphs" >Day 8</text>
<line x1="118.80" y1="330.00" x2="118.80" y2="333.60" stroke="#333" stroke-width="1" />
<line x1="131.70" y1="330.00" x2="131.70" y2="333.60" stroke="#333" stroke-width="1" />
<line x1="144.70" y1="330.00" x2="144.70" y2="333.60" stroke="#333" stroke-width="1" />
<line x1="157.90" y1="330.00" x2="157.90" y2="333.60" stroke="#333" stroke-width="1" />
<line x1="171.10" y1="330.00" x2="171.10" y2="333.60" stroke="#333" stroke-width="1" />
<line x1="184.20" y1="330.00" x2="184.20" y2="333.60" stroke="#333" stroke-width="1" />
<defs><clipPath id="sp5"><rect x="42.2" y="339.2" width="70.0" height="71.40000000000003"/></clipPath></defs>
<rect x="42.20" y="339.20" width="70.00" height="71.40" fill="#fff" stroke="none" stroke-width="1" />
<line x1="51.10" y1="339.20" x2="51.10" y2="410.60" stroke="#f3f3f3" stroke-width="0.5" />
<line x1="64.10" y1="339.20" x2="64.10" y2="410.60" stroke="#f3f3f3" stroke-width="0.5" />
<line x1="77.05" y1="339.20" x2="77.05" y2="410.60" stroke="#f3f3f3" stroke-width="0.5" />
<line x1="90.10" y1="339.20" x2="90.10" y2="410.60" stroke="#f3f3f3" stroke-width="0.5" />
<line x1="103.15" y1="339.20" x2="103.15" y2="410.60" stroke="#f3f3f3" stroke-width="0.5" />
<line x1="42.20" y1="402.05" x2="112.20" y2="402.05" stroke="#f3f3f3" stroke-width="0.5" />
<line x1="42.20" y1="388.75" x2="112.20" y2="388.75" stroke="#f3f3f3" stroke-width="0.5" />
<line x1="42.20" y1="375.50" x2="112.20" y2="375.50" stroke="#f3f3f3" stroke-width="0.5" />
<line x1="42.20" y1="362.25" x2="112.20" y2="362.25" stroke="#f3f3f3" stroke-width="0.5" />
<line x1="42.20" y1="348.95" x2="112.20" y2="348.95" stroke="#f3f3f3" stroke-width="0.5" />
<line x1="44.60" y1="339.20" x2="44.60" y2="410.60" stroke="#e8e8e8" stroke-width="0.6" />
<line x1="57.60" y1="339.20" x2="57.60" y2="410.60" stroke="#e8e8e8" stroke-width="0.6" />
<line x1="70.60" y1="339.20" x2="70.60" y2="410.60" stroke="#e8e8e8" stroke-width="0.6" />
<line x1="83.50" y1="339.20" x2="83.50" y2="410.60" stroke="#e8e8e8" stroke-width="0.6" />
<line x1="96.70" y1="339.20" x2="96.70" y2="410.60" stroke="#e8e8e8" stroke-width="0.6" />
<line x1="109.60" y1="339.20" x2="109.60" y2="410.60" stroke="#e8e8e8" stroke-width="0.6" />
<line x1="42.20" y1="408.70" x2="112.20" y2="408.70" stroke="#e8e8e8" stroke-width="0.6" />
<line x1="42.20" y1="395.40" x2="112.20" y2="395.40" stroke="#e8e8e8" stroke-width="0.6" />
<line x1="42.20" y1="382.10" x2="112.20" y2="382.10" stroke="#e8e8e8" stroke-width="0.6" />
<line x1="42.20" y1="368.90" x2="112.20" y2="368.90" stroke="#e8e8e8" stroke-width="0.6" />
<line x1="42.20" y1="355.60" x2="112.20" y2="355.60" stroke="#e8e8e8" stroke-width="0.6" />
<line x1="42.20" y1="342.30" x2="112.20" y2="342.30" stroke="#e8e8e8" stroke-width="0.6" />
<g clip-path="url(#sp5)">
<path d="M44.40,360.00 L43.60,362.00 L42.90,372.00 L41.70,377.00 L40.90,381.00 L41.20,385.00 L43.20,388.00 L44.60,389.50 L44.60,389.50 L46.00,388.00 L48.00,385.00 L48.30,381.00 L47.50,377.00 L46.30,372.00 L45.60,362.00 L44.80,360.00 Z" fill="#cdcdcd" fill-opacity="0.8" stroke="none"/>
<path d="M63.30,408.70 L64.20,405.20 L66.50,403.10 L69.50,402.90 L72.50,404.30 L75.00,406.30 L78.00,407.40 L83.30,407.90 L84.00,408.70 L84.00,408.70 L83.30,409.50 L78.00,410.00 L75.00,411.10 L72.50,413.10 L69.50,414.50 L66.50,414.30 L64.20,412.20 L63.30,408.70 Z" fill="#cdc7ca" fill-opacity="0.8" stroke="none"/>
<line x1="42.74" y1="410.60" x2="112.20" y2="339.54" stroke="#333" stroke-width="1.1" stroke-dasharray="4.6,3"/>
<circle cx="69.60" cy="371.20" r="1.05" fill="#111" stroke="none" stroke-width="1" />
<circle cx="69.60" cy="372.30" r="1.05" fill="#111" stroke="none" stroke-width="1" />
<circle cx="69.60" cy="373.40" r="1.05" fill="#111" stroke="none" stroke-width="1" />
<circle cx="69.60" cy="374.50" r="1.05" fill="#111" stroke="none" stroke-width="1" />
<circle cx="69.60" cy="375.60" r="1.05" fill="#111" stroke="none" stroke-width="1" />
<circle cx="69.60" cy="376.70" r="1.05" fill="#111" stroke="none" stroke-width="1" />
<circle cx="69.60" cy="377.80" r="1.05" fill="#111" stroke="none" stroke-width="1" />
<circle cx="69.60" cy="378.90" r="1.05" fill="#111" stroke="none" stroke-width="1" />
<circle cx="71.00" cy="369.00" r="1.05" fill="#111" stroke="none" stroke-width="1" />
<circle cx="71.00" cy="370.10" r="1.05" fill="#111" stroke="none" stroke-width="1" />
<circle cx="71.00" cy="371.20" r="1.05" fill="#111" stroke="none" stroke-width="1" />
<circle cx="71.00" cy="372.30" r="1.05" fill="#111" stroke="none" stroke-width="1" />
<circle cx="71.00" cy="373.40" r="1.05" fill="#111" stroke="none" stroke-width="1" />
<circle cx="71.00" cy="374.50" r="1.05" fill="#111" stroke="none" stroke-width="1" />
<circle cx="71.00" cy="375.60" r="1.05" fill="#111" stroke="none" stroke-width="1" />
<circle cx="71.00" cy="376.70" r="1.05" fill="#111" stroke="none" stroke-width="1" />
<circle cx="71.00" cy="377.80" r="1.05" fill="#111" stroke="none" stroke-width="1" />
<circle cx="71.00" cy="378.90" r="1.05" fill="#111" stroke="none" stroke-width="1" />
<circle cx="68.90" cy="383.30" r="1.05" fill="#111" stroke="none" stroke-width="1" />
<circle cx="70.00" cy="383.30" r="1.05" fill="#111" stroke="none" stroke-width="1" />
<circle cx="71.10" cy="383.30" r="1.05" fill="#111" stroke="none" stroke-width="1" />
<circle cx="72.20" cy="383.30" r="1.05" fill="#111" stroke="none" stroke-width="1" />
<circle cx="73.30" cy="383.30" r="1.05" fill="#111" stroke="none" stroke-width="1" />
<circle cx="74.40" cy="383.30" r="1.05" fill="#111" stroke="none" stroke-width="1" />
<circle cx="75.50" cy="383.30" r="1.05" fill="#111" stroke="none" stroke-width="1" />
<circle cx="76.60" cy="383.30" r="1.05" fill="#111" stroke="none" stroke-width="1" />
<circle cx="77.70" cy="383.30" r="1.05" fill="#111" stroke="none" stroke-width="1" />
<circle cx="78.80" cy="383.30" r="1.05" fill="#111" stroke="none" stroke-width="1" />
<circle cx="79.90" cy="383.30" r="1.05" fill="#111" stroke="none" stroke-width="1" />
<circle cx="81.00" cy="383.30" r="1.05" fill="#111" stroke="none" stroke-width="1" />
<circle cx="82.10" cy="383.30" r="1.05" fill="#111" stroke="none" stroke-width="1" />
<circle cx="78.20" cy="364.00" r="1.05" fill="#111" stroke="none" stroke-width="1" />
<circle cx="76.80" cy="366.10" r="1.05" fill="#111" stroke="none" stroke-width="1" />
<circle cx="79.00" cy="363.50" r="1.05" fill="#111" stroke="none" stroke-width="1" />
<circle cx="81.80" cy="377.00" r="1.05" fill="#111" stroke="none" stroke-width="1" />
<circle cx="75.95" cy="376.38" r="1.05" fill="#111" stroke="none" stroke-width="1" />
<circle cx="79.30" cy="378.27" r="1.05" fill="#111" stroke="none" stroke-width="1" />
<circle cx="75.37" cy="371.15" r="1.05" fill="#111" stroke="none" stroke-width="1" />
<circle cx="75.06" cy="371.09" r="1.05" fill="#111" stroke="none" stroke-width="1" />
<circle cx="79.70" cy="370.00" r="1.05" fill="#111" stroke="none" stroke-width="1" />
<circle cx="78.10" cy="370.96" r="1.05" fill="#111" stroke="none" stroke-width="1" />
<circle cx="76.23" cy="373.46" r="1.05" fill="#111" stroke="none" stroke-width="1" />
<circle cx="80.52" cy="375.50" r="1.05" fill="#111" stroke="none" stroke-width="1" />
<circle cx="74.01" cy="371.67" r="1.05" fill="#111" stroke="none" stroke-width="1" />
<circle cx="75.06" cy="378.52" r="1.05" fill="#111" stroke="none" stroke-width="1" />
<circle cx="80.30" cy="377.77" r="1.05" fill="#111" stroke="none" stroke-width="1" />
<circle cx="80.43" cy="377.06" r="1.05" fill="#111" stroke="none" stroke-width="1" />
<circle cx="81.40" cy="377.63" r="1.05" fill="#111" stroke="none" stroke-width="1" />
<circle cx="75.93" cy="378.27" r="1.05" fill="#111" stroke="none" stroke-width="1" />
<circle cx="77.75" cy="377.18" r="1.05" fill="#111" stroke="none" stroke-width="1" />
<circle cx="78.36" cy="373.44" r="1.05" fill="#111" stroke="none" stroke-width="1" />
<circle cx="76.78" cy="373.44" r="1.05" fill="#111" stroke="none" stroke-width="1" />
<circle cx="76.38" cy="369.85" r="1.05" fill="#111" stroke="none" stroke-width="1" />
<circle cx="80.38" cy="377.68" r="1.05" fill="#111" stroke="none" stroke-width="1" />
<circle cx="81.69" cy="376.45" r="1.05" fill="#111" stroke="none" stroke-width="1" />
<circle cx="78.28" cy="377.11" r="1.05" fill="#111" stroke="none" stroke-width="1" />
<circle cx="74.97" cy="376.28" r="1.05" fill="#111" stroke="none" stroke-width="1" />
<circle cx="74.50" cy="369.00" r="1.05" fill="#111" stroke="none" stroke-width="1" />
<circle cx="74.50" cy="370.60" r="1.05" fill="#111" stroke="none" stroke-width="1" />
<circle cx="74.50" cy="372.20" r="1.05" fill="#111" stroke="none" stroke-width="1" />
<circle cx="74.50" cy="373.80" r="1.05" fill="#111" stroke="none" stroke-width="1" />
<circle cx="74.50" cy="375.40" r="1.05" fill="#111" stroke="none" stroke-width="1" />
<circle cx="74.50" cy="377.00" r="1.05" fill="#111" stroke="none" stroke-width="1" />
<circle cx="74.50" cy="378.60" r="1.05" fill="#111" stroke="none" stroke-width="1" />
<circle cx="78.00" cy="369.00" r="1.05" fill="#111" stroke="none" stroke-width="1" />
<circle cx="78.00" cy="371.00" r="1.05" fill="#111" stroke="none" stroke-width="1" />
<circle cx="78.00" cy="373.00" r="1.05" fill="#111" stroke="none" stroke-width="1" />
<circle cx="78.00" cy="375.00" r="1.05" fill="#111" stroke="none" stroke-width="1" />
</g>
<text x="45.90" y="351.20" font-size="7.2" text-anchor="start" fill="#444" stroke="#444" stroke-width="0.1" font-style="italic" textLength="44.7" lengthAdjust="spacingAndGlyphs" >Jaccard = 0.022</text>
<rect x="42.20" y="339.20" width="70.00" height="71.40" fill="none" stroke="#333" stroke-width="1.1" />
<line x1="38.60" y1="408.70" x2="42.20" y2="408.70" stroke="#333" stroke-width="1" />
<text x="34.40" y="411.30" font-size="7.2" text-anchor="end" fill="#333" stroke="#333" stroke-width="0.3" textLength="3.6" lengthAdjust="spacingAndGlyphs" >0</text>
<line x1="38.60" y1="395.40" x2="42.20" y2="395.40" stroke="#333" stroke-width="1" />
<text x="34.40" y="398.00" font-size="7.2" text-anchor="end" fill="#333" stroke="#333" stroke-width="0.3" textLength="18.5" lengthAdjust="spacingAndGlyphs" >1e&#8722;05</text>
<line x1="38.60" y1="382.10" x2="42.20" y2="382.10" stroke="#333" stroke-width="1" />
<text x="34.40" y="384.70" font-size="7.2" text-anchor="end" fill="#333" stroke="#333" stroke-width="0.3" textLength="18.5" lengthAdjust="spacingAndGlyphs" >1e&#8722;04</text>
<line x1="38.60" y1="368.90" x2="42.20" y2="368.90" stroke="#333" stroke-width="1" />
<text x="34.40" y="371.50" font-size="7.2" text-anchor="end" fill="#333" stroke="#333" stroke-width="0.3" textLength="17.4" lengthAdjust="spacingAndGlyphs" >0.001</text>
<line x1="38.60" y1="355.60" x2="42.20" y2="355.60" stroke="#333" stroke-width="1" />
<text x="34.40" y="358.20" font-size="7.2" text-anchor="end" fill="#333" stroke="#333" stroke-width="0.3" textLength="13.6" lengthAdjust="spacingAndGlyphs" >0.01</text>
<line x1="38.60" y1="342.30" x2="42.20" y2="342.30" stroke="#333" stroke-width="1" />
<text x="34.40" y="344.90" font-size="7.2" text-anchor="end" fill="#333" stroke="#333" stroke-width="0.3" textLength="9.4" lengthAdjust="spacingAndGlyphs" >0.1</text>
<line x1="44.60" y1="410.60" x2="44.60" y2="414.20" stroke="#333" stroke-width="1" />
<text x="47.20" y="419.20" font-size="7.2" text-anchor="end" fill="#333" stroke="#333" stroke-width="0.3" textLength="3.6" lengthAdjust="spacingAndGlyphs" transform="rotate(-90 47.20 419.20)" >0</text>
<line x1="57.60" y1="410.60" x2="57.60" y2="414.20" stroke="#333" stroke-width="1" />
<text x="60.20" y="419.20" font-size="7.2" text-anchor="end" fill="#333" stroke="#333" stroke-width="0.3" textLength="18.5" lengthAdjust="spacingAndGlyphs" transform="rotate(-90 60.20 419.20)" >1e&#8722;05</text>
<line x1="70.60" y1="410.60" x2="70.60" y2="414.20" stroke="#333" stroke-width="1" />
<text x="73.20" y="419.20" font-size="7.2" text-anchor="end" fill="#333" stroke="#333" stroke-width="0.3" textLength="18.5" lengthAdjust="spacingAndGlyphs" transform="rotate(-90 73.20 419.20)" >1e&#8722;04</text>
<line x1="83.50" y1="410.60" x2="83.50" y2="414.20" stroke="#333" stroke-width="1" />
<text x="86.10" y="419.20" font-size="7.2" text-anchor="end" fill="#333" stroke="#333" stroke-width="0.3" textLength="17.4" lengthAdjust="spacingAndGlyphs" transform="rotate(-90 86.10 419.20)" >0.001</text>
<line x1="96.70" y1="410.60" x2="96.70" y2="414.20" stroke="#333" stroke-width="1" />
<text x="99.30" y="419.20" font-size="7.2" text-anchor="end" fill="#333" stroke="#333" stroke-width="0.3" textLength="13.6" lengthAdjust="spacingAndGlyphs" transform="rotate(-90 99.30 419.20)" >0.01</text>
<line x1="109.60" y1="410.60" x2="109.60" y2="414.20" stroke="#333" stroke-width="1" />
<text x="112.20" y="419.20" font-size="7.2" text-anchor="end" fill="#333" stroke="#333" stroke-width="0.3" textLength="9.4" lengthAdjust="spacingAndGlyphs" transform="rotate(-90 112.20 419.20)" >0.1</text>
<defs><clipPath id="sp6"><rect x="116.2" y="339.2" width="70.2" height="71.40000000000003"/></clipPath></defs>
<rect x="116.20" y="339.20" width="70.20" height="71.40" fill="#fff" stroke="none" stroke-width="1" />
<line x1="125.25" y1="339.20" x2="125.25" y2="410.60" stroke="#f3f3f3" stroke-width="0.5" />
<line x1="138.20" y1="339.20" x2="138.20" y2="410.60" stroke="#f3f3f3" stroke-width="0.5" />
<line x1="151.30" y1="339.20" x2="151.30" y2="410.60" stroke="#f3f3f3" stroke-width="0.5" />
<line x1="164.50" y1="339.20" x2="164.50" y2="410.60" stroke="#f3f3f3" stroke-width="0.5" />
<line x1="177.65" y1="339.20" x2="177.65" y2="410.60" stroke="#f3f3f3" stroke-width="0.5" />
<line x1="116.20" y1="402.05" x2="186.40" y2="402.05" stroke="#f3f3f3" stroke-width="0.5" />
<line x1="116.20" y1="388.75" x2="186.40" y2="388.75" stroke="#f3f3f3" stroke-width="0.5" />
<line x1="116.20" y1="375.50" x2="186.40" y2="375.50" stroke="#f3f3f3" stroke-width="0.5" />
<line x1="116.20" y1="362.25" x2="186.40" y2="362.25" stroke="#f3f3f3" stroke-width="0.5" />
<line x1="116.20" y1="348.95" x2="186.40" y2="348.95" stroke="#f3f3f3" stroke-width="0.5" />
<line x1="118.80" y1="339.20" x2="118.80" y2="410.60" stroke="#e8e8e8" stroke-width="0.6" />
<line x1="131.70" y1="339.20" x2="131.70" y2="410.60" stroke="#e8e8e8" stroke-width="0.6" />
<line x1="144.70" y1="339.20" x2="144.70" y2="410.60" stroke="#e8e8e8" stroke-width="0.6" />
<line x1="157.90" y1="339.20" x2="157.90" y2="410.60" stroke="#e8e8e8" stroke-width="0.6" />
<line x1="171.10" y1="339.20" x2="171.10" y2="410.60" stroke="#e8e8e8" stroke-width="0.6" />
<line x1="184.20" y1="339.20" x2="184.20" y2="410.60" stroke="#e8e8e8" stroke-width="0.6" />
<line x1="116.20" y1="408.70" x2="186.40" y2="408.70" stroke="#e8e8e8" stroke-width="0.6" />
<line x1="116.20" y1="395.40" x2="186.40" y2="395.40" stroke="#e8e8e8" stroke-width="0.6" />
<line x1="116.20" y1="382.10" x2="186.40" y2="382.10" stroke="#e8e8e8" stroke-width="0.6" />
<line x1="116.20" y1="368.90" x2="186.40" y2="368.90" stroke="#e8e8e8" stroke-width="0.6" />
<line x1="116.20" y1="355.60" x2="186.40" y2="355.60" stroke="#e8e8e8" stroke-width="0.6" />
<line x1="116.20" y1="342.30" x2="186.40" y2="342.30" stroke="#e8e8e8" stroke-width="0.6" />
<g clip-path="url(#sp6)">
<path d="M119.30,349.50 L118.50,351.00 L118.40,384.00 L117.70,386.00 L117.60,388.00 L118.70,390.00 L119.50,391.00 L119.50,391.00 L120.30,390.00 L121.40,388.00 L121.30,386.00 L120.60,384.00 L120.50,351.00 L119.70,349.50 Z" fill="#cdcdcd" fill-opacity="0.8" stroke="none"/>
<path d="M134.50,408.70 L135.30,406.20 L137.50,405.10 L141.00,405.40 L144.00,406.50 L150.00,407.50 L170.00,407.70 L178.30,408.10 L179.00,408.70 L179.00,408.70 L178.30,409.30 L170.00,409.70 L150.00,409.90 L144.00,410.90 L141.00,412.00 L137.50,412.30 L135.30,411.20 L134.50,408.70 Z" fill="#cdc7ca" fill-opacity="0.8" stroke="none"/>
<line x1="116.93" y1="410.60" x2="186.40" y2="340.07" stroke="#333" stroke-width="1.1" stroke-dasharray="4.6,3"/>
<circle cx="147.90" cy="355.30" r="1.05" fill="#111" stroke="none" stroke-width="1" />
<circle cx="139.10" cy="360.70" r="1.05" fill="#111" stroke="none" stroke-width="1" />
<circle cx="143.20" cy="359.90" r="1.05" fill="#111" stroke="none" stroke-width="1" />
<circle cx="139.10" cy="365.00" r="1.05" fill="#111" stroke="none" stroke-width="1" />
<circle cx="139.10" cy="368.70" r="1.05" fill="#111" stroke="none" stroke-width="1" />
<circle cx="143.20" cy="367.20" r="1.05" fill="#111" stroke="none" stroke-width="1" />
<circle cx="146.90" cy="368.70" r="1.05" fill="#111" stroke="none" stroke-width="1" />
<circle cx="153.20" cy="366.50" r="1.05" fill="#111" stroke="none" stroke-width="1" />
<circle cx="153.50" cy="368.70" r="1.05" fill="#111" stroke="none" stroke-width="1" />
<circle cx="157.10" cy="368.70" r="1.05" fill="#111" stroke="none" stroke-width="1" />
<circle cx="157.90" cy="368.00" r="1.05" fill="#111" stroke="none" stroke-width="1" />
<circle cx="139.10" cy="373.10" r="1.05" fill="#111" stroke="none" stroke-width="1" />
<circle cx="139.10" cy="375.30" r="1.05" fill="#111" stroke="none" stroke-width="1" />
<circle cx="139.10" cy="377.50" r="1.05" fill="#111" stroke="none" stroke-width="1" />
<circle cx="139.10" cy="380.40" r="1.05" fill="#111" stroke="none" stroke-width="1" />
<circle cx="139.10" cy="371.00" r="1.05" fill="#111" stroke="none" stroke-width="1" />
<circle cx="139.10" cy="379.00" r="1.05" fill="#111" stroke="none" stroke-width="1" />
<circle cx="143.20" cy="373.10" r="1.05" fill="#111" stroke="none" stroke-width="1" />
<circle cx="143.20" cy="376.00" r="1.05" fill="#111" stroke="none" stroke-width="1" />
<circle cx="143.20" cy="374.50" r="1.05" fill="#111" stroke="none" stroke-width="1" />
<circle cx="148.80" cy="372.40" r="1.05" fill="#111" stroke="none" stroke-width="1" />
<circle cx="150.30" cy="372.40" r="1.05" fill="#111" stroke="none" stroke-width="1" />
<circle cx="162.20" cy="375.70" r="1.05" fill="#111" stroke="none" stroke-width="1" />
<circle cx="143.20" cy="379.70" r="1.05" fill="#111" stroke="none" stroke-width="1" />
<circle cx="144.70" cy="381.10" r="1.05" fill="#111" stroke="none" stroke-width="1" />
<circle cx="146.20" cy="380.40" r="1.05" fill="#111" stroke="none" stroke-width="1" />
<circle cx="150.30" cy="381.10" r="1.05" fill="#111" stroke="none" stroke-width="1" />
<circle cx="139.10" cy="385.10" r="1.05" fill="#111" stroke="none" stroke-width="1" />
<circle cx="147.90" cy="385.10" r="1.05" fill="#111" stroke="none" stroke-width="1" />
<circle cx="156.10" cy="385.10" r="1.05" fill="#111" stroke="none" stroke-width="1" />
</g>
<text x="123.50" y="351.20" font-size="7.2" text-anchor="start" fill="#444" stroke="#444" stroke-width="0.1" font-style="italic" textLength="44.5" lengthAdjust="spacingAndGlyphs" >Jaccard = 0.003</text>
<rect x="116.20" y="339.20" width="70.20" height="71.40" fill="none" stroke="#333" stroke-width="1.1" />
<rect x="186.40" y="339.20" width="9.90" height="71.40" fill="#c8c8c8" stroke="#333" stroke-width="1.1" />
<text x="188.35" y="374.90" font-size="8.4" text-anchor="middle" fill="#1a1a1a" stroke="#1a1a1a" stroke-width="0.3" textLength="19" lengthAdjust="spacingAndGlyphs" transform="rotate(90 188.35 374.90)" >TCRB</text>
<line x1="118.80" y1="410.60" x2="118.80" y2="414.20" stroke="#333" stroke-width="1" />
<text x="121.40" y="419.20" font-size="7.2" text-anchor="end" fill="#333" stroke="#333" stroke-width="0.3" textLength="3.6" lengthAdjust="spacingAndGlyphs" transform="rotate(-90 121.40 419.20)" >0</text>
<line x1="131.70" y1="410.60" x2="131.70" y2="414.20" stroke="#333" stroke-width="1" />
<text x="134.30" y="419.20" font-size="7.2" text-anchor="end" fill="#333" stroke="#333" stroke-width="0.3" textLength="18.5" lengthAdjust="spacingAndGlyphs" transform="rotate(-90 134.30 419.20)" >1e&#8722;05</text>
<line x1="144.70" y1="410.60" x2="144.70" y2="414.20" stroke="#333" stroke-width="1" />
<text x="147.30" y="419.20" font-size="7.2" text-anchor="end" fill="#333" stroke="#333" stroke-width="0.3" textLength="18.5" lengthAdjust="spacingAndGlyphs" transform="rotate(-90 147.30 419.20)" >1e&#8722;04</text>
<line x1="157.90" y1="410.60" x2="157.90" y2="414.20" stroke="#333" stroke-width="1" />
<text x="160.50" y="419.20" font-size="7.2" text-anchor="end" fill="#333" stroke="#333" stroke-width="0.3" textLength="17.4" lengthAdjust="spacingAndGlyphs" transform="rotate(-90 160.50 419.20)" >0.001</text>
<line x1="171.10" y1="410.60" x2="171.10" y2="414.20" stroke="#333" stroke-width="1" />
<text x="173.70" y="419.20" font-size="7.2" text-anchor="end" fill="#333" stroke="#333" stroke-width="0.3" textLength="13.6" lengthAdjust="spacingAndGlyphs" transform="rotate(-90 173.70 419.20)" >0.01</text>
<line x1="184.20" y1="410.60" x2="184.20" y2="414.20" stroke="#333" stroke-width="1" />
<text x="186.80" y="419.20" font-size="7.2" text-anchor="end" fill="#333" stroke="#333" stroke-width="0.3" textLength="9.4" lengthAdjust="spacingAndGlyphs" transform="rotate(-90 186.80 419.20)" >0.1</text>
<text x="119.20" y="451.50" font-size="9.5" text-anchor="middle" fill="#333" stroke="#333" stroke-width="0.3" textLength="61.5" lengthAdjust="spacingAndGlyphs" >Frequency in Tcon</text>
<defs><clipPath id="eP"><circle cx="120.4" cy="542.8" r="47.3"/></clipPath><clipPath id="eR"><circle cx="145.2" cy="583.4" r="47.5"/></clipPath><clipPath id="ePR" clip-path="url(#eP)"><circle cx="145.2" cy="583.4" r="47.5"/></clipPath></defs>
<circle cx="120.4" cy="542.8" r="47.3" fill="#7e4584"/>
<circle cx="145.2" cy="583.4" r="47.5" fill="#d8433f"/>
<circle cx="93.2" cy="583.4" r="47.2" fill="#43639f"/>
<circle cx="145.2" cy="583.4" r="47.5" fill="#7c2462" clip-path="url(#eP)"/>
<circle cx="93.2" cy="583.4" r="47.2" fill="#354a8e" clip-path="url(#eP)"/>
<circle cx="93.2" cy="583.4" r="47.2" fill="#604b80" clip-path="url(#eR)"/>
<circle cx="93.2" cy="583.4" r="47.2" fill="#30418a" clip-path="url(#ePR)"/>
<text x="119.40" y="521.00" font-size="7.8" text-anchor="middle" fill="#fff" stroke="#fff" stroke-width="0.1" >6267</text>
<text x="91.50" y="555.80" font-size="7.8" text-anchor="middle" fill="#fff" stroke="#fff" stroke-width="0.1" >506</text>
<text x="149.00" y="555.10" font-size="7.8" text-anchor="middle" fill="#fff" stroke="#fff" stroke-width="0.1" >402</text>
<text x="119.40" y="572.60" font-size="7.8" text-anchor="middle" fill="#fff" stroke="#fff" stroke-width="0.1" >1074</text>
<text x="78.50" y="598.30" font-size="7.8" text-anchor="middle" fill="#fff" stroke="#fff" stroke-width="0.1" >9682</text>
<text x="119.40" y="607.00" font-size="7.8" text-anchor="middle" fill="#fff" stroke="#fff" stroke-width="0.1" >1668</text>
<text x="164.90" y="599.00" font-size="7.8" text-anchor="middle" fill="#fff" stroke="#fff" stroke-width="0.1" >8898</text>
<text x="119.80" y="491.20" font-size="8" text-anchor="middle" fill="#7e4584" >Treg</text>
<text x="6.70" y="624.00" font-size="8" text-anchor="start" fill="#3d5c98" textLength="46.2" lengthAdjust="spacingAndGlyphs" >CD4 Tcon allo</text>
<text x="178.50" y="624.00" font-size="8" text-anchor="start" fill="#c93446" textLength="67.2" lengthAdjust="spacingAndGlyphs" >CD4 Tcon allo+Treg</text>
<rect x="269.60" y="317.60" width="31.00" height="4.40" fill="#f2a687" stroke="none" stroke-width="1" shape-rendering="crispEdges"/>
<rect x="269.60" y="322.00" width="31.00" height="4.00" fill="#ee9a7a" stroke="none" stroke-width="1" shape-rendering="crispEdges"/>
<rect x="269.60" y="326.00" width="31.00" height="5.00" fill="#f0a181" stroke="none" stroke-width="1" shape-rendering="crispEdges"/>
<rect x="269.60" y="331.00" width="31.00" height="4.30" fill="#e98668" stroke="none" stroke-width="1" shape-rendering="crispEdges"/>
<rect x="269.60" y="335.30" width="31.00" height="12.70" fill="#d5453b" stroke="none" stroke-width="1" shape-rendering="crispEdges"/>
<rect x="269.60" y="348.00" width="31.00" height="7.40" fill="#d9503f" stroke="none" stroke-width="1" shape-rendering="crispEdges"/>
<rect x="269.60" y="355.40" width="31.00" height="6.60" fill="#df6249" stroke="none" stroke-width="1" shape-rendering="crispEdges"/>
<rect x="269.60" y="362.00" width="31.00" height="6.80" fill="#e06a50" stroke="none" stroke-width="1" shape-rendering="crispEdges"/>
<rect x="269.60" y="368.80" width="31.00" height="2.70" fill="#d84b3d" stroke="none" stroke-width="1" shape-rendering="crispEdges"/>
<rect x="269.60" y="371.50" width="31.00" height="14.20" fill="#bd212b" stroke="none" stroke-width="1" shape-rendering="crispEdges"/>
<rect x="269.60" y="385.70" width="31.00" height="227.20" fill="#2a76bf" stroke="none" stroke-width="1" shape-rendering="crispEdges"/>
<rect x="300.60" y="317.60" width="31.10" height="17.70" fill="#a5151f" stroke="none" stroke-width="1" shape-rendering="crispEdges"/>
<rect x="300.60" y="335.30" width="31.10" height="12.00" fill="#ca3232" stroke="none" stroke-width="1" shape-rendering="crispEdges"/>
<rect x="300.60" y="347.30" width="31.10" height="24.20" fill="#c2202b" stroke="none" stroke-width="1" shape-rendering="crispEdges"/>
<rect x="300.60" y="371.50" width="31.10" height="6.70" fill="#dc5e48" stroke="none" stroke-width="1" shape-rendering="crispEdges"/>
<rect x="300.60" y="378.20" width="31.10" height="4.80" fill="#e97d61" stroke="none" stroke-width="1" shape-rendering="crispEdges"/>
<rect x="300.60" y="383.00" width="31.10" height="2.70" fill="#f09c7c" stroke="none" stroke-width="1" shape-rendering="crispEdges"/>
<rect x="300.60" y="385.70" width="31.10" height="227.20" fill="#2f7ec5" stroke="none" stroke-width="1" shape-rendering="crispEdges"/>
<rect x="331.70" y="317.60" width="31.20" height="20.40" fill="#6eaad8" stroke="none" stroke-width="1" shape-rendering="crispEdges"/>
<rect x="331.70" y="338.00" width="31.20" height="1.30" fill="#a8d0ec" stroke="none" stroke-width="1" shape-rendering="crispEdges"/>
<rect x="331.70" y="339.30" width="31.20" height="12.70" fill="#6fabd8" stroke="none" stroke-width="1" shape-rendering="crispEdges"/>
<rect x="331.70" y="352.00" width="31.20" height="4.00" fill="#77b0dc" stroke="none" stroke-width="1" shape-rendering="crispEdges"/>
<rect x="331.70" y="356.00" width="31.20" height="29.70" fill="#6eaad8" stroke="none" stroke-width="1" shape-rendering="crispEdges"/>
<rect x="331.70" y="385.70" width="31.20" height="12.70" fill="#c4202b" stroke="none" stroke-width="1" shape-rendering="crispEdges"/>
<rect x="331.70" y="398.40" width="31.20" height="5.60" fill="#dc5a48" stroke="none" stroke-width="1" shape-rendering="crispEdges"/>
<rect x="331.70" y="404.00" width="31.20" height="6.00" fill="#e26d53" stroke="none" stroke-width="1" shape-rendering="crispEdges"/>
<rect x="331.70" y="410.00" width="31.20" height="7.00" fill="#d9503f" stroke="none" stroke-width="1" shape-rendering="crispEdges"/>
<rect x="331.70" y="417.00" width="31.20" height="7.80" fill="#e57055" stroke="none" stroke-width="1" shape-rendering="crispEdges"/>
<rect x="331.70" y="424.80" width="31.20" height="12.60" fill="#f5e0d6" stroke="none" stroke-width="1" shape-rendering="crispEdges"/>
<rect x="331.70" y="437.40" width="31.20" height="14.60" fill="#ea8a6c" stroke="none" stroke-width="1" shape-rendering="crispEdges"/>
<rect x="331.70" y="452.00" width="31.20" height="8.00" fill="#f3b597" stroke="none" stroke-width="1" shape-rendering="crispEdges"/>
<rect x="331.70" y="460.00" width="31.20" height="7.00" fill="#f0a789" stroke="none" stroke-width="1" shape-rendering="crispEdges"/>
<rect x="331.70" y="467.00" width="31.20" height="14.00" fill="#f6c9b0" stroke="none" stroke-width="1" shape-rendering="crispEdges"/>
<rect x="331.70" y="481.00" width="31.20" height="9.00" fill="#fae3d8" stroke="none" stroke-width="1" shape-rendering="crispEdges"/>
<rect x="331.70" y="490.00" width="31.20" height="10.00" fill="#e47a5e" stroke="none" stroke-width="1" shape-rendering="crispEdges"/>
<rect x="331.70" y="500.00" width="31.20" height="12.00" fill="#e47058" stroke="none" stroke-width="1" shape-rendering="crispEdges"/>
<rect x="331.70" y="512.00" width="31.20" height="8.00" fill="#ec8c70" stroke="none" stroke-width="1" shape-rendering="crispEdges"/>
<rect x="331.70" y="520.00" width="31.20" height="12.80" fill="#f0a080" stroke="none" stroke-width="1" shape-rendering="crispEdges"/>
<rect x="331.70" y="532.80" width="31.20" height="1.20" fill="#fbe6dc" stroke="none" stroke-width="1" shape-rendering="crispEdges"/>
<rect x="331.70" y="534.00" width="31.20" height="13.00" fill="#e98a6e" stroke="none" stroke-width="1" shape-rendering="crispEdges"/>
<rect x="331.70" y="547.00" width="31.20" height="13.00" fill="#ee9a7c" stroke="none" stroke-width="1" shape-rendering="crispEdges"/>
<rect x="331.70" y="560.00" width="31.20" height="15.00" fill="#f3b496" stroke="none" stroke-width="1" shape-rendering="crispEdges"/>
<rect x="331.70" y="575.00" width="31.20" height="13.00" fill="#f4b294" stroke="none" stroke-width="1" shape-rendering="crispEdges"/>
<rect x="331.70" y="588.00" width="31.20" height="15.00" fill="#d63c36" stroke="none" stroke-width="1" shape-rendering="crispEdges"/>
<rect x="331.70" y="603.00" width="31.20" height="9.90" fill="#e06a50" stroke="none" stroke-width="1" shape-rendering="crispEdges"/>
<rect x="362.90" y="317.60" width="31.10" height="46.40" fill="#79b2dc" stroke="none" stroke-width="1" shape-rendering="crispEdges"/>
<rect x="362.90" y="364.00" width="31.10" height="12.50" fill="#8fc0e3" stroke="none" stroke-width="1" shape-rendering="crispEdges"/>
<rect x="362.90" y="376.50" width="31.10" height="9.20" fill="#77b0db" stroke="none" stroke-width="1" shape-rendering="crispEdges"/>
<rect x="362.90" y="385.70" width="31.10" height="13.30" fill="#f7c3a6" stroke="none" stroke-width="1" shape-rendering="crispEdges"/>
<rect x="362.90" y="399.00" width="31.10" height="14.00" fill="#de6049" stroke="none" stroke-width="1" shape-rendering="crispEdges"/>
<rect x="362.90" y="413.00" width="31.10" height="12.00" fill="#eb9274" stroke="none" stroke-width="1" shape-rendering="crispEdges"/>
<rect x="362.90" y="425.00" width="31.10" height="16.00" fill="#c41f2a" stroke="none" stroke-width="1" shape-rendering="crispEdges"/>
<rect x="362.90" y="441.00" width="31.10" height="9.00" fill="#d84a3d" stroke="none" stroke-width="1" shape-rendering="crispEdges"/>
<rect x="362.90" y="450.00" width="31.10" height="10.00" fill="#dc5542" stroke="none" stroke-width="1" shape-rendering="crispEdges"/>
<rect x="362.90" y="460.00" width="31.10" height="8.00" fill="#c92a2f" stroke="none" stroke-width="1" shape-rendering="crispEdges"/>
<rect x="362.90" y="468.00" width="31.10" height="4.00" fill="#f0a084" stroke="none" stroke-width="1" shape-rendering="crispEdges"/>
<rect x="362.90" y="472.00" width="31.10" height="18.00" fill="#d9503f" stroke="none" stroke-width="1" shape-rendering="crispEdges"/>
<rect x="362.90" y="490.00" width="31.10" height="20.00" fill="#f2a889" stroke="none" stroke-width="1" shape-rendering="crispEdges"/>
<rect x="362.90" y="510.00" width="31.10" height="10.00" fill="#f4b090" stroke="none" stroke-width="1" shape-rendering="crispEdges"/>
<rect x="362.90" y="520.00" width="31.10" height="25.00" fill="#eb8a6e" stroke="none" stroke-width="1" shape-rendering="crispEdges"/>
<rect x="362.90" y="545.00" width="31.10" height="20.00" fill="#e36d54" stroke="none" stroke-width="1" shape-rendering="crispEdges"/>
<rect x="362.90" y="565.00" width="31.10" height="23.00" fill="#e67a60" stroke="none" stroke-width="1" shape-rendering="crispEdges"/>
<rect x="362.90" y="588.00" width="31.10" height="12.00" fill="#f5c0a4" stroke="none" stroke-width="1" shape-rendering="crispEdges"/>
<rect x="362.90" y="600.00" width="31.10" height="12.90" fill="#f8d2bc" stroke="none" stroke-width="1" shape-rendering="crispEdges"/>
<rect x="394.00" y="317.60" width="30.80" height="9.40" fill="#72acd9" stroke="none" stroke-width="1" shape-rendering="crispEdges"/>
<rect x="394.00" y="327.00" width="30.80" height="3.00" fill="#66a3d3" stroke="none" stroke-width="1" shape-rendering="crispEdges"/>
<rect x="394.00" y="330.00" width="30.80" height="55.70" fill="#72acd9" stroke="none" stroke-width="1" shape-rendering="crispEdges"/>
<rect x="394.00" y="385.70" width="30.80" height="7.30" fill="#ee9575" stroke="none" stroke-width="1" shape-rendering="crispEdges"/>
<rect x="394.00" y="393.00" width="30.80" height="17.00" fill="#f8cfb5" stroke="none" stroke-width="1" shape-rendering="crispEdges"/>
<rect x="394.00" y="410.00" width="30.80" height="18.00" fill="#f4b496" stroke="none" stroke-width="1" shape-rendering="crispEdges"/>
<rect x="394.00" y="428.00" width="30.80" height="9.00" fill="#e8876a" stroke="none" stroke-width="1" shape-rendering="crispEdges"/>
<rect x="394.00" y="437.00" width="30.80" height="28.00" fill="#f6c2a8" stroke="none" stroke-width="1" shape-rendering="crispEdges"/>
<rect x="394.00" y="465.00" width="30.80" height="5.00" fill="#d23a35" stroke="none" stroke-width="1" shape-rendering="crispEdges"/>
<rect x="394.00" y="470.00" width="30.80" height="15.00" fill="#e98a6c" stroke="none" stroke-width="1" shape-rendering="crispEdges"/>
<rect x="394.00" y="485.00" width="30.80" height="25.00" fill="#e46d55" stroke="none" stroke-width="1" shape-rendering="crispEdges"/>
<rect x="394.00" y="510.00" width="30.80" height="12.00" fill="#d9473c" stroke="none" stroke-width="1" shape-rendering="crispEdges"/>
<rect x="394.00" y="522.00" width="30.80" height="23.00" fill="#e57a60" stroke="none" stroke-width="1" shape-rendering="crispEdges"/>
<rect x="394.00" y="545.00" width="30.80" height="15.00" fill="#e46f56" stroke="none" stroke-width="1" shape-rendering="crispEdges"/>
<rect x="394.00" y="560.00" width="30.80" height="20.00" fill="#df5e48" stroke="none" stroke-width="1" shape-rendering="crispEdges"/>
<rect x="394.00" y="580.00" width="30.80" height="10.00" fill="#e06a52" stroke="none" stroke-width="1" shape-rendering="crispEdges"/>
<rect x="394.00" y="590.00" width="30.80" height="10.00" fill="#ee9878" stroke="none" stroke-width="1" shape-rendering="crispEdges"/>
<rect x="394.00" y="600.00" width="30.80" height="12.90" fill="#d7433a" stroke="none" stroke-width="1" shape-rendering="crispEdges"/>
<rect x="269.60" y="317.60" width="31.00" height="2.95" fill="#fff" fill-opacity="0.05" shape-rendering="crispEdges"/>
<rect x="331.70" y="317.60" width="31.20" height="2.95" fill="#fff" fill-opacity="0.06" shape-rendering="crispEdges"/>
<rect x="269.60" y="320.55" width="31.00" height="2.95" fill="#000" fill-opacity="0.02" shape-rendering="crispEdges"/>
<rect x="331.70" y="320.55" width="31.20" height="2.95" fill="#000" fill-opacity="0.06" shape-rendering="crispEdges"/>
<rect x="362.90" y="320.55" width="31.10" height="2.95" fill="#fff" fill-opacity="0.02" shape-rendering="crispEdges"/>
<rect x="331.70" y="323.51" width="31.20" height="2.95" fill="#000" fill-opacity="0.04" shape-rendering="crispEdges"/>
<rect x="362.90" y="323.51" width="31.10" height="2.95" fill="#000" fill-opacity="0.07" shape-rendering="crispEdges"/>
<rect x="394.00" y="323.51" width="30.80" height="2.95" fill="#000" fill-opacity="0.06" shape-rendering="crispEdges"/>
<rect x="362.90" y="326.46" width="31.10" height="2.95" fill="#000" fill-opacity="0.04" shape-rendering="crispEdges"/>
<rect x="394.00" y="326.46" width="30.80" height="2.95" fill="#000" fill-opacity="0.06" shape-rendering="crispEdges"/>
<rect x="300.60" y="329.41" width="31.10" height="2.95" fill="#fff" fill-opacity="0.07" shape-rendering="crispEdges"/>
<rect x="300.60" y="332.37" width="31.10" height="2.95" fill="#fff" fill-opacity="0.04" shape-rendering="crispEdges"/>
<rect x="331.70" y="332.37" width="31.20" height="2.95" fill="#fff" fill-opacity="0.07" shape-rendering="crispEdges"/>
<rect x="394.00" y="335.32" width="30.80" height="2.95" fill="#fff" fill-opacity="0.02" shape-rendering="crispEdges"/>
<rect x="269.60" y="341.22" width="31.00" height="2.95" fill="#fff" fill-opacity="0.05" shape-rendering="crispEdges"/>
<rect x="331.70" y="341.22" width="31.20" height="2.95" fill="#000" fill-opacity="0.03" shape-rendering="crispEdges"/>
<rect x="394.00" y="341.22" width="30.80" height="2.95" fill="#000" fill-opacity="0.05" shape-rendering="crispEdges"/>
<rect x="269.60" y="344.18" width="31.00" height="2.95" fill="#fff" fill-opacity="0.02" shape-rendering="crispEdges"/>
<rect x="394.00" y="350.08" width="30.80" height="2.95" fill="#000" fill-opacity="0.06" shape-rendering="crispEdges"/>
<rect x="269.60" y="353.04" width="31.00" height="2.95" fill="#fff" fill-opacity="0.06" shape-rendering="crispEdges"/>
<rect x="362.90" y="353.04" width="31.10" height="2.95" fill="#000" fill-opacity="0.03" shape-rendering="crispEdges"/>
<rect x="269.60" y="355.99" width="31.00" height="2.95" fill="#000" fill-opacity="0.02" shape-rendering="crispEdges"/>
<rect x="269.60" y="358.94" width="31.00" height="2.95" fill="#fff" fill-opacity="0.07" shape-rendering="crispEdges"/>
<rect x="331.70" y="358.94" width="31.20" height="2.95" fill="#fff" fill-opacity="0.03" shape-rendering="crispEdges"/>
<rect x="394.00" y="361.89" width="30.80" height="2.95" fill="#000" fill-opacity="0.05" shape-rendering="crispEdges"/>
<rect x="300.60" y="364.85" width="31.10" height="2.95" fill="#fff" fill-opacity="0.05" shape-rendering="crispEdges"/>
<rect x="331.70" y="364.85" width="31.20" height="2.95" fill="#fff" fill-opacity="0.05" shape-rendering="crispEdges"/>
<rect x="269.60" y="367.80" width="31.00" height="2.95" fill="#fff" fill-opacity="0.04" shape-rendering="crispEdges"/>
<rect x="331.70" y="367.80" width="31.20" height="2.95" fill="#000" fill-opacity="0.02" shape-rendering="crispEdges"/>
<rect x="362.90" y="367.80" width="31.10" height="2.95" fill="#000" fill-opacity="0.04" shape-rendering="crispEdges"/>
<rect x="300.60" y="370.75" width="31.10" height="2.95" fill="#000" fill-opacity="0.05" shape-rendering="crispEdges"/>
<rect x="362.90" y="370.75" width="31.10" height="2.95" fill="#000" fill-opacity="0.03" shape-rendering="crispEdges"/>
<rect x="331.70" y="373.71" width="31.20" height="2.95" fill="#fff" fill-opacity="0.06" shape-rendering="crispEdges"/>
<rect x="269.60" y="376.66" width="31.00" height="2.95" fill="#000" fill-opacity="0.04" shape-rendering="crispEdges"/>
<rect x="331.70" y="376.66" width="31.20" height="2.95" fill="#000" fill-opacity="0.06" shape-rendering="crispEdges"/>
<rect x="394.00" y="376.66" width="30.80" height="2.95" fill="#000" fill-opacity="0.02" shape-rendering="crispEdges"/>
<rect x="269.60" y="379.61" width="31.00" height="2.95" fill="#000" fill-opacity="0.07" shape-rendering="crispEdges"/>
<rect x="394.00" y="379.61" width="30.80" height="2.95" fill="#fff" fill-opacity="0.05" shape-rendering="crispEdges"/>
<rect x="331.70" y="382.57" width="31.20" height="2.95" fill="#fff" fill-opacity="0.05" shape-rendering="crispEdges"/>
<rect x="394.00" y="382.57" width="30.80" height="2.95" fill="#fff" fill-opacity="0.06" shape-rendering="crispEdges"/>
<rect x="300.60" y="385.52" width="31.10" height="2.95" fill="#000" fill-opacity="0.07" shape-rendering="crispEdges"/>
<rect x="331.70" y="385.52" width="31.20" height="2.95" fill="#fff" fill-opacity="0.02" shape-rendering="crispEdges"/>
<rect x="300.60" y="388.47" width="31.10" height="2.95" fill="#000" fill-opacity="0.05" shape-rendering="crispEdges"/>
<rect x="269.60" y="391.43" width="31.00" height="2.95" fill="#000" fill-opacity="0.02" shape-rendering="crispEdges"/>
<rect x="300.60" y="391.43" width="31.10" height="2.95" fill="#fff" fill-opacity="0.06" shape-rendering="crispEdges"/>
<rect x="394.00" y="391.43" width="30.80" height="2.95" fill="#000" fill-opacity="0.04" shape-rendering="crispEdges"/>
<rect x="331.70" y="394.38" width="31.20" height="2.95" fill="#000" fill-opacity="0.04" shape-rendering="crispEdges"/>
<rect x="331.70" y="400.28" width="31.20" height="2.95" fill="#000" fill-opacity="0.07" shape-rendering="crispEdges"/>
<rect x="331.70" y="403.24" width="31.20" height="2.95" fill="#000" fill-opacity="0.04" shape-rendering="crispEdges"/>
<rect x="394.00" y="403.24" width="30.80" height="2.95" fill="#000" fill-opacity="0.05" shape-rendering="crispEdges"/>
<rect x="269.60" y="406.19" width="31.00" height="2.95" fill="#fff" fill-opacity="0.07" shape-rendering="crispEdges"/>
<rect x="331.70" y="406.19" width="31.20" height="2.95" fill="#fff" fill-opacity="0.07" shape-rendering="crispEdges"/>
<rect x="362.90" y="406.19" width="31.10" height="2.95" fill="#fff" fill-opacity="0.04" shape-rendering="crispEdges"/>
<rect x="269.60" y="409.14" width="31.00" height="2.95" fill="#000" fill-opacity="0.07" shape-rendering="crispEdges"/>
<rect x="300.60" y="409.14" width="31.10" height="2.95" fill="#000" fill-opacity="0.06" shape-rendering="crispEdges"/>
<rect x="362.90" y="409.14" width="31.10" height="2.95" fill="#000" fill-opacity="0.05" shape-rendering="crispEdges"/>
<rect x="394.00" y="412.10" width="30.80" height="2.95" fill="#000" fill-opacity="0.03" shape-rendering="crispEdges"/>
<rect x="269.60" y="415.05" width="31.00" height="2.95" fill="#fff" fill-opacity="0.03" shape-rendering="crispEdges"/>
<rect x="300.60" y="415.05" width="31.10" height="2.95" fill="#fff" fill-opacity="0.06" shape-rendering="crispEdges"/>
<rect x="362.90" y="415.05" width="31.10" height="2.95" fill="#000" fill-opacity="0.05" shape-rendering="crispEdges"/>
<rect x="300.60" y="418.00" width="31.10" height="2.95" fill="#fff" fill-opacity="0.02" shape-rendering="crispEdges"/>
<rect x="331.70" y="418.00" width="31.20" height="2.95" fill="#000" fill-opacity="0.04" shape-rendering="crispEdges"/>
<rect x="269.60" y="420.95" width="31.00" height="2.95" fill="#fff" fill-opacity="0.06" shape-rendering="crispEdges"/>
<rect x="331.70" y="420.95" width="31.20" height="2.95" fill="#000" fill-opacity="0.03" shape-rendering="crispEdges"/>
<rect x="394.00" y="420.95" width="30.80" height="2.95" fill="#fff" fill-opacity="0.06" shape-rendering="crispEdges"/>
<rect x="331.70" y="423.91" width="31.20" height="2.95" fill="#000" fill-opacity="0.05" shape-rendering="crispEdges"/>
<rect x="300.60" y="426.86" width="31.10" height="2.95" fill="#fff" fill-opacity="0.02" shape-rendering="crispEdges"/>
<rect x="300.60" y="429.81" width="31.10" height="2.95" fill="#000" fill-opacity="0.03" shape-rendering="crispEdges"/>
<rect x="331.70" y="429.81" width="31.20" height="2.95" fill="#fff" fill-opacity="0.05" shape-rendering="crispEdges"/>
<rect x="362.90" y="429.81" width="31.10" height="2.95" fill="#fff" fill-opacity="0.02" shape-rendering="crispEdges"/>
<rect x="269.60" y="432.77" width="31.00" height="2.95" fill="#000" fill-opacity="0.03" shape-rendering="crispEdges"/>
<rect x="300.60" y="432.77" width="31.10" height="2.95" fill="#fff" fill-opacity="0.04" shape-rendering="crispEdges"/>
<rect x="362.90" y="432.77" width="31.10" height="2.95" fill="#fff" fill-opacity="0.03" shape-rendering="crispEdges"/>
<rect x="394.00" y="435.72" width="30.80" height="2.95" fill="#000" fill-opacity="0.06" shape-rendering="crispEdges"/>
<rect x="269.60" y="438.67" width="31.00" height="2.95" fill="#fff" fill-opacity="0.04" shape-rendering="crispEdges"/>
<rect x="331.70" y="438.67" width="31.20" height="2.95" fill="#000" fill-opacity="0.06" shape-rendering="crispEdges"/>
<rect x="362.90" y="438.67" width="31.10" height="2.95" fill="#fff" fill-opacity="0.06" shape-rendering="crispEdges"/>
<rect x="300.60" y="441.63" width="31.10" height="2.95" fill="#fff" fill-opacity="0.06" shape-rendering="crispEdges"/>
<rect x="394.00" y="444.58" width="30.80" height="2.95" fill="#fff" fill-opacity="0.04" shape-rendering="crispEdges"/>
<rect x="362.90" y="447.53" width="31.10" height="2.95" fill="#fff" fill-opacity="0.07" shape-rendering="crispEdges"/>
<rect x="269.60" y="450.49" width="31.00" height="2.95" fill="#fff" fill-opacity="0.07" shape-rendering="crispEdges"/>
<rect x="269.60" y="453.44" width="31.00" height="2.95" fill="#000" fill-opacity="0.04" shape-rendering="crispEdges"/>
<rect x="394.00" y="453.44" width="30.80" height="2.95" fill="#000" fill-opacity="0.02" shape-rendering="crispEdges"/>
<rect x="300.60" y="456.39" width="31.10" height="2.95" fill="#000" fill-opacity="0.05" shape-rendering="crispEdges"/>
<rect x="331.70" y="456.39" width="31.20" height="2.95" fill="#fff" fill-opacity="0.07" shape-rendering="crispEdges"/>
<rect x="269.60" y="459.34" width="31.00" height="2.95" fill="#000" fill-opacity="0.03" shape-rendering="crispEdges"/>
<rect x="269.60" y="462.30" width="31.00" height="2.95" fill="#000" fill-opacity="0.04" shape-rendering="crispEdges"/>
<rect x="331.70" y="462.30" width="31.20" height="2.95" fill="#000" fill-opacity="0.05" shape-rendering="crispEdges"/>
<rect x="362.90" y="462.30" width="31.10" height="2.95" fill="#fff" fill-opacity="0.06" shape-rendering="crispEdges"/>
<rect x="269.60" y="468.20" width="31.00" height="2.95" fill="#fff" fill-opacity="0.05" shape-rendering="crispEdges"/>
<rect x="362.90" y="468.20" width="31.10" height="2.95" fill="#fff" fill-opacity="0.03" shape-rendering="crispEdges"/>
<rect x="300.60" y="471.16" width="31.10" height="2.95" fill="#fff" fill-opacity="0.04" shape-rendering="crispEdges"/>
<rect x="300.60" y="477.06" width="31.10" height="2.95" fill="#fff" fill-opacity="0.06" shape-rendering="crispEdges"/>
<rect x="362.90" y="477.06" width="31.10" height="2.95" fill="#fff" fill-opacity="0.06" shape-rendering="crispEdges"/>
<rect x="394.00" y="477.06" width="30.80" height="2.95" fill="#fff" fill-opacity="0.04" shape-rendering="crispEdges"/>
<rect x="269.60" y="480.01" width="31.00" height="2.95" fill="#000" fill-opacity="0.06" shape-rendering="crispEdges"/>
<rect x="331.70" y="480.01" width="31.20" height="2.95" fill="#000" fill-opacity="0.03" shape-rendering="crispEdges"/>
<rect x="269.60" y="482.97" width="31.00" height="2.95" fill="#000" fill-opacity="0.05" shape-rendering="crispEdges"/>
<rect x="362.90" y="482.97" width="31.10" height="2.95" fill="#000" fill-opacity="0.03" shape-rendering="crispEdges"/>
<rect x="300.60" y="485.92" width="31.10" height="2.95" fill="#fff" fill-opacity="0.06" shape-rendering="crispEdges"/>
<rect x="331.70" y="485.92" width="31.20" height="2.95" fill="#fff" fill-opacity="0.06" shape-rendering="crispEdges"/>
<rect x="269.60" y="491.83" width="31.00" height="2.95" fill="#fff" fill-opacity="0.06" shape-rendering="crispEdges"/>
<rect x="362.90" y="491.83" width="31.10" height="2.95" fill="#000" fill-opacity="0.06" shape-rendering="crispEdges"/>
<rect x="300.60" y="494.78" width="31.10" height="2.95" fill="#fff" fill-opacity="0.05" shape-rendering="crispEdges"/>
<rect x="331.70" y="494.78" width="31.20" height="2.95" fill="#000" fill-opacity="0.04" shape-rendering="crispEdges"/>
<rect x="394.00" y="494.78" width="30.80" height="2.95" fill="#000" fill-opacity="0.04" shape-rendering="crispEdges"/>
<rect x="269.60" y="497.73" width="31.00" height="2.95" fill="#000" fill-opacity="0.03" shape-rendering="crispEdges"/>
<rect x="362.90" y="497.73" width="31.10" height="2.95" fill="#fff" fill-opacity="0.03" shape-rendering="crispEdges"/>
<rect x="394.00" y="497.73" width="30.80" height="2.95" fill="#fff" fill-opacity="0.04" shape-rendering="crispEdges"/>
<rect x="269.60" y="500.69" width="31.00" height="2.95" fill="#fff" fill-opacity="0.05" shape-rendering="crispEdges"/>
<rect x="300.60" y="500.69" width="31.10" height="2.95" fill="#fff" fill-opacity="0.03" shape-rendering="crispEdges"/>
<rect x="331.70" y="500.69" width="31.20" height="2.95" fill="#fff" fill-opacity="0.03" shape-rendering="crispEdges"/>
<rect x="300.60" y="503.64" width="31.10" height="2.95" fill="#000" fill-opacity="0.04" shape-rendering="crispEdges"/>
<rect x="269.60" y="506.59" width="31.00" height="2.95" fill="#fff" fill-opacity="0.04" shape-rendering="crispEdges"/>
<rect x="362.90" y="506.59" width="31.10" height="2.95" fill="#000" fill-opacity="0.07" shape-rendering="crispEdges"/>
<rect x="362.90" y="509.54" width="31.10" height="2.95" fill="#fff" fill-opacity="0.04" shape-rendering="crispEdges"/>
<rect x="331.70" y="512.50" width="31.20" height="2.95" fill="#000" fill-opacity="0.03" shape-rendering="crispEdges"/>
<rect x="362.90" y="512.50" width="31.10" height="2.95" fill="#fff" fill-opacity="0.06" shape-rendering="crispEdges"/>
<rect x="394.00" y="512.50" width="30.80" height="2.95" fill="#000" fill-opacity="0.04" shape-rendering="crispEdges"/>
<rect x="331.70" y="515.45" width="31.20" height="2.95" fill="#fff" fill-opacity="0.04" shape-rendering="crispEdges"/>
<rect x="394.00" y="518.40" width="30.80" height="2.95" fill="#000" fill-opacity="0.04" shape-rendering="crispEdges"/>
<rect x="269.60" y="521.36" width="31.00" height="2.95" fill="#fff" fill-opacity="0.03" shape-rendering="crispEdges"/>
<rect x="331.70" y="521.36" width="31.20" height="2.95" fill="#000" fill-opacity="0.02" shape-rendering="crispEdges"/>
<rect x="394.00" y="521.36" width="30.80" height="2.95" fill="#000" fill-opacity="0.05" shape-rendering="crispEdges"/>
<rect x="269.60" y="527.26" width="31.00" height="2.95" fill="#fff" fill-opacity="0.05" shape-rendering="crispEdges"/>
<rect x="362.90" y="527.26" width="31.10" height="2.95" fill="#fff" fill-opacity="0.06" shape-rendering="crispEdges"/>
<rect x="394.00" y="527.26" width="30.80" height="2.95" fill="#fff" fill-opacity="0.05" shape-rendering="crispEdges"/>
<rect x="362.90" y="530.22" width="31.10" height="2.95" fill="#000" fill-opacity="0.07" shape-rendering="crispEdges"/>
<rect x="300.60" y="533.17" width="31.10" height="2.95" fill="#fff" fill-opacity="0.04" shape-rendering="crispEdges"/>
<rect x="331.70" y="533.17" width="31.20" height="2.95" fill="#fff" fill-opacity="0.03" shape-rendering="crispEdges"/>
<rect x="331.70" y="542.03" width="31.20" height="2.95" fill="#000" fill-opacity="0.03" shape-rendering="crispEdges"/>
<rect x="362.90" y="542.03" width="31.10" height="2.95" fill="#000" fill-opacity="0.02" shape-rendering="crispEdges"/>
<rect x="300.60" y="544.98" width="31.10" height="2.95" fill="#000" fill-opacity="0.05" shape-rendering="crispEdges"/>
<rect x="362.90" y="544.98" width="31.10" height="2.95" fill="#fff" fill-opacity="0.04" shape-rendering="crispEdges"/>
<rect x="331.70" y="547.93" width="31.20" height="2.95" fill="#fff" fill-opacity="0.04" shape-rendering="crispEdges"/>
<rect x="269.60" y="550.89" width="31.00" height="2.95" fill="#000" fill-opacity="0.05" shape-rendering="crispEdges"/>
<rect x="362.90" y="550.89" width="31.10" height="2.95" fill="#fff" fill-opacity="0.04" shape-rendering="crispEdges"/>
<rect x="331.70" y="553.84" width="31.20" height="2.95" fill="#000" fill-opacity="0.06" shape-rendering="crispEdges"/>
<rect x="362.90" y="553.84" width="31.10" height="2.95" fill="#000" fill-opacity="0.03" shape-rendering="crispEdges"/>
<rect x="394.00" y="553.84" width="30.80" height="2.95" fill="#fff" fill-opacity="0.02" shape-rendering="crispEdges"/>
<rect x="269.60" y="556.79" width="31.00" height="2.95" fill="#fff" fill-opacity="0.05" shape-rendering="crispEdges"/>
<rect x="394.00" y="556.79" width="30.80" height="2.95" fill="#000" fill-opacity="0.06" shape-rendering="crispEdges"/>
<rect x="300.60" y="559.75" width="31.10" height="2.95" fill="#000" fill-opacity="0.03" shape-rendering="crispEdges"/>
<rect x="331.70" y="562.70" width="31.20" height="2.95" fill="#000" fill-opacity="0.04" shape-rendering="crispEdges"/>
<rect x="300.60" y="565.65" width="31.10" height="2.95" fill="#fff" fill-opacity="0.07" shape-rendering="crispEdges"/>
<rect x="269.60" y="568.61" width="31.00" height="2.95" fill="#fff" fill-opacity="0.05" shape-rendering="crispEdges"/>
<rect x="362.90" y="568.61" width="31.10" height="2.95" fill="#000" fill-opacity="0.06" shape-rendering="crispEdges"/>
<rect x="269.60" y="571.56" width="31.00" height="2.95" fill="#000" fill-opacity="0.05" shape-rendering="crispEdges"/>
<rect x="362.90" y="571.56" width="31.10" height="2.95" fill="#000" fill-opacity="0.04" shape-rendering="crispEdges"/>
<rect x="300.60" y="574.51" width="31.10" height="2.95" fill="#fff" fill-opacity="0.07" shape-rendering="crispEdges"/>
<rect x="394.00" y="577.46" width="30.80" height="2.95" fill="#fff" fill-opacity="0.03" shape-rendering="crispEdges"/>
<rect x="269.60" y="580.42" width="31.00" height="2.95" fill="#fff" fill-opacity="0.02" shape-rendering="crispEdges"/>
<rect x="300.60" y="580.42" width="31.10" height="2.95" fill="#000" fill-opacity="0.04" shape-rendering="crispEdges"/>
<rect x="331.70" y="580.42" width="31.20" height="2.95" fill="#fff" fill-opacity="0.04" shape-rendering="crispEdges"/>
<rect x="362.90" y="580.42" width="31.10" height="2.95" fill="#000" fill-opacity="0.05" shape-rendering="crispEdges"/>
<rect x="394.00" y="580.42" width="30.80" height="2.95" fill="#000" fill-opacity="0.03" shape-rendering="crispEdges"/>
<rect x="269.60" y="583.37" width="31.00" height="2.95" fill="#fff" fill-opacity="0.03" shape-rendering="crispEdges"/>
<rect x="269.60" y="586.32" width="31.00" height="2.95" fill="#fff" fill-opacity="0.05" shape-rendering="crispEdges"/>
<rect x="269.60" y="589.28" width="31.00" height="2.95" fill="#fff" fill-opacity="0.05" shape-rendering="crispEdges"/>
<rect x="362.90" y="589.28" width="31.10" height="2.95" fill="#000" fill-opacity="0.06" shape-rendering="crispEdges"/>
<rect x="331.70" y="592.23" width="31.20" height="2.95" fill="#fff" fill-opacity="0.03" shape-rendering="crispEdges"/>
<rect x="269.60" y="595.18" width="31.00" height="2.95" fill="#fff" fill-opacity="0.03" shape-rendering="crispEdges"/>
<rect x="300.60" y="595.18" width="31.10" height="2.95" fill="#fff" fill-opacity="0.05" shape-rendering="crispEdges"/>
<rect x="300.60" y="598.13" width="31.10" height="2.95" fill="#000" fill-opacity="0.04" shape-rendering="crispEdges"/>
<rect x="394.00" y="598.13" width="30.80" height="2.95" fill="#000" fill-opacity="0.05" shape-rendering="crispEdges"/>
<rect x="269.60" y="601.09" width="31.00" height="2.95" fill="#000" fill-opacity="0.03" shape-rendering="crispEdges"/>
<rect x="300.60" y="601.09" width="31.10" height="2.95" fill="#fff" fill-opacity="0.05" shape-rendering="crispEdges"/>
<rect x="362.90" y="604.04" width="31.10" height="2.95" fill="#000" fill-opacity="0.04" shape-rendering="crispEdges"/>
<rect x="394.00" y="604.04" width="30.80" height="2.95" fill="#000" fill-opacity="0.04" shape-rendering="crispEdges"/>
<rect x="331.70" y="606.99" width="31.20" height="2.95" fill="#000" fill-opacity="0.03" shape-rendering="crispEdges"/>
<rect x="394.00" y="606.99" width="30.80" height="2.95" fill="#000" fill-opacity="0.06" shape-rendering="crispEdges"/>
<rect x="362.90" y="609.95" width="31.10" height="2.95" fill="#fff" fill-opacity="0.07" shape-rendering="crispEdges"/>
<rect x="269.60" y="305.20" width="62.10" height="10.10" fill="#a47fb1" stroke="none" stroke-width="1" />
<rect x="331.70" y="305.20" width="93.10" height="10.10" fill="#5b1f6c" stroke="none" stroke-width="1" />
<text x="428.70" y="313.30" font-size="10" text-anchor="start" fill="#1a1a1a" stroke="#1a1a1a" stroke-width="0.3" textLength="30.7" lengthAdjust="spacingAndGlyphs" >sample</text>
<path d="M285.10,303.50 L285.10,295.30 L316.15,295.30 L316.15,303.50" fill="none" stroke="#222" stroke-width="0.9"/>
<path d="M378.45,303.50 L378.45,293.30 L409.40,293.30 L409.40,303.50" fill="none" stroke="#222" stroke-width="0.9"/>
<path d="M347.30,303.50 L347.30,289.80 L393.92,289.80 L393.92,293.30" fill="none" stroke="#222" stroke-width="0.9"/>
<path d="M300.62,295.30 L300.62,248.30 L370.61,248.30 L370.61,289.80" fill="none" stroke="#222" stroke-width="0.9"/>
<path d="M269.60,321.49 L268.04,321.49 L268.04,323.04 L269.60,323.04" fill="none" stroke="#111" stroke-width="1.0"/>
<path d="M269.60,324.59 L267.17,324.59 L267.17,326.15 L269.60,326.15" fill="none" stroke="#111" stroke-width="1.0"/>
<path d="M268.04,322.26 L268.43,322.26 L268.43,325.37 L267.17,325.37" fill="none" stroke="#111" stroke-width="1.0"/>
<path d="M269.60,319.93 L265.97,319.93 L265.97,323.82 L268.43,323.82" fill="none" stroke="#111" stroke-width="1.0"/>
<path d="M269.60,318.38 L260.10,318.38 L260.10,321.87 L265.97,321.87" fill="none" stroke="#111" stroke-width="1.0"/>
<path d="M269.60,327.70 L267.67,327.70 L267.67,329.26 L269.60,329.26" fill="none" stroke="#111" stroke-width="1.0"/>
<path d="M269.60,330.81 L267.78,330.81 L267.78,332.37 L269.60,332.37" fill="none" stroke="#111" stroke-width="1.0"/>
<path d="M267.78,331.59 L267.54,331.59 L267.54,333.92 L269.60,333.92" fill="none" stroke="#111" stroke-width="1.0"/>
<path d="M267.67,328.48 L268.83,328.48 L268.83,332.75 L267.54,332.75" fill="none" stroke="#111" stroke-width="1.0"/>
<path d="M269.60,335.47 L267.85,335.47 L267.85,337.03 L269.60,337.03" fill="none" stroke="#111" stroke-width="1.0"/>
<path d="M267.85,336.25 L266.51,336.25 L266.51,338.58 L269.60,338.58" fill="none" stroke="#111" stroke-width="1.0"/>
<path d="M268.83,330.62 L268.01,330.62 L268.01,337.42 L266.51,337.42" fill="none" stroke="#111" stroke-width="1.0"/>
<path d="M269.60,340.14 L267.67,340.14 L267.67,341.69 L269.60,341.69" fill="none" stroke="#111" stroke-width="1.0"/>
<path d="M267.67,340.91 L268.10,340.91 L268.10,343.24 L269.60,343.24" fill="none" stroke="#111" stroke-width="1.0"/>
<path d="M268.01,334.02 L266.95,334.02 L266.95,342.08 L268.10,342.08" fill="none" stroke="#111" stroke-width="1.0"/>
<path d="M269.60,344.80 L266.22,344.80 L266.22,346.35 L269.60,346.35" fill="none" stroke="#111" stroke-width="1.0"/>
<path d="M269.60,347.91 L266.72,347.91 L266.72,349.46 L269.60,349.46" fill="none" stroke="#111" stroke-width="1.0"/>
<path d="M266.22,345.58 L269.23,345.58 L269.23,348.68 L266.72,348.68" fill="none" stroke="#111" stroke-width="1.0"/>
<path d="M269.60,351.02 L267.97,351.02 L267.97,352.57 L269.60,352.57" fill="none" stroke="#111" stroke-width="1.0"/>
<path d="M267.97,351.79 L267.38,351.79 L267.38,354.12 L269.60,354.12" fill="none" stroke="#111" stroke-width="1.0"/>
<path d="M269.60,355.68 L266.74,355.68 L266.74,357.23 L269.60,357.23" fill="none" stroke="#111" stroke-width="1.0"/>
<path d="M269.60,360.34 L267.14,360.34 L267.14,361.90 L269.60,361.90" fill="none" stroke="#111" stroke-width="1.0"/>
<path d="M269.60,358.79 L267.42,358.79 L267.42,361.12 L267.14,361.12" fill="none" stroke="#111" stroke-width="1.0"/>
<path d="M266.74,356.46 L269.35,356.46 L269.35,359.95 L267.42,359.95" fill="none" stroke="#111" stroke-width="1.0"/>
<path d="M267.38,352.96 L269.16,352.96 L269.16,358.20 L269.35,358.20" fill="none" stroke="#111" stroke-width="1.0"/>
<path d="M269.23,347.13 L268.84,347.13 L268.84,355.58 L269.16,355.58" fill="none" stroke="#111" stroke-width="1.0"/>
<path d="M269.60,365.00 L266.41,365.00 L266.41,366.56 L269.60,366.56" fill="none" stroke="#111" stroke-width="1.0"/>
<path d="M266.41,365.78 L266.15,365.78 L266.15,368.11 L269.60,368.11" fill="none" stroke="#111" stroke-width="1.0"/>
<path d="M269.60,369.67 L268.06,369.67 L268.06,371.22 L269.60,371.22" fill="none" stroke="#111" stroke-width="1.0"/>
<path d="M266.15,366.95 L268.67,366.95 L268.67,370.44 L268.06,370.44" fill="none" stroke="#111" stroke-width="1.0"/>
<path d="M269.60,363.45 L268.23,363.45 L268.23,368.69 L268.67,368.69" fill="none" stroke="#111" stroke-width="1.0"/>
<path d="M268.84,351.36 L267.21,351.36 L267.21,366.07 L268.23,366.07" fill="none" stroke="#111" stroke-width="1.0"/>
<path d="M266.95,338.05 L261.80,338.05 L261.80,358.71 L267.21,358.71" fill="none" stroke="#111" stroke-width="1.0"/>
<path d="M269.60,372.77 L266.94,372.77 L266.94,374.33 L269.60,374.33" fill="none" stroke="#111" stroke-width="1.0"/>
<path d="M269.60,375.88 L266.22,375.88 L266.22,377.44 L269.60,377.44" fill="none" stroke="#111" stroke-width="1.0"/>
<path d="M266.22,376.66 L266.24,376.66 L266.24,378.99 L269.60,378.99" fill="none" stroke="#111" stroke-width="1.0"/>
<path d="M266.24,377.83 L267.88,377.83 L267.88,380.55 L269.60,380.55" fill="none" stroke="#111" stroke-width="1.0"/>
<path d="M269.60,382.10 L266.55,382.10 L266.55,383.65 L269.60,383.65" fill="none" stroke="#111" stroke-width="1.0"/>
<path d="M266.55,382.88 L267.05,382.88 L267.05,385.21 L269.60,385.21" fill="none" stroke="#111" stroke-width="1.0"/>
<path d="M267.88,379.19 L264.20,379.19 L264.20,384.04 L267.05,384.04" fill="none" stroke="#111" stroke-width="1.0"/>
<path d="M266.94,373.55 L261.00,373.55 L261.00,381.61 L264.20,381.61" fill="none" stroke="#111" stroke-width="1.0"/>
<path d="M261.80,352.70 L255.90,352.70 L255.90,378.80 L261.00,378.80" fill="none" stroke="#111" stroke-width="1.0"/>
<path d="M260.10,321.90 L246.40,321.90 L246.40,365.70 L255.90,365.70" fill="none" stroke="#111" stroke-width="1.0"/>
<path d="M269.60,386.76 L267.92,386.76 L267.92,388.32 L269.60,388.32" fill="none" stroke="#111" stroke-width="1.0"/>
<path d="M269.60,389.87 L266.26,389.87 L266.26,391.43 L269.60,391.43" fill="none" stroke="#111" stroke-width="1.0"/>
<path d="M267.92,387.54 L267.43,387.54 L267.43,390.65 L266.26,390.65" fill="none" stroke="#111" stroke-width="1.0"/>
<path d="M269.60,394.53 L267.47,394.53 L267.47,396.09 L269.60,396.09" fill="none" stroke="#111" stroke-width="1.0"/>
<path d="M269.60,392.98 L267.48,392.98 L267.48,395.31 L267.47,395.31" fill="none" stroke="#111" stroke-width="1.0"/>
<path d="M267.48,394.14 L265.80,394.14 L265.80,397.64 L269.60,397.64" fill="none" stroke="#111" stroke-width="1.0"/>
<path d="M267.43,389.09 L262.85,389.09 L262.85,395.89 L265.80,395.89" fill="none" stroke="#111" stroke-width="1.0"/>
<path d="M269.60,399.20 L266.72,399.20 L266.72,400.75 L269.60,400.75" fill="none" stroke="#111" stroke-width="1.0"/>
<path d="M266.72,399.97 L267.80,399.97 L267.80,402.30 L269.60,402.30" fill="none" stroke="#111" stroke-width="1.0"/>
<path d="M262.85,392.49 L251.90,392.49 L251.90,401.14 L267.80,401.14" fill="none" stroke="#111" stroke-width="1.0"/>
<path d="M269.60,406.97 L267.11,406.97 L267.11,408.52 L269.60,408.52" fill="none" stroke="#111" stroke-width="1.0"/>
<path d="M267.11,407.74 L268.03,407.74 L268.03,410.08 L269.60,410.08" fill="none" stroke="#111" stroke-width="1.0"/>
<path d="M268.03,408.91 L268.67,408.91 L268.67,411.63 L269.60,411.63" fill="none" stroke="#111" stroke-width="1.0"/>
<path d="M269.60,405.41 L267.86,405.41 L267.86,410.27 L268.67,410.27" fill="none" stroke="#111" stroke-width="1.0"/>
<path d="M269.60,403.86 L266.23,403.86 L266.23,407.84 L267.86,407.84" fill="none" stroke="#111" stroke-width="1.0"/>
<path d="M269.60,414.74 L267.89,414.74 L267.89,416.29 L269.60,416.29" fill="none" stroke="#111" stroke-width="1.0"/>
<path d="M269.60,413.18 L266.20,413.18 L266.20,415.52 L267.89,415.52" fill="none" stroke="#111" stroke-width="1.0"/>
<path d="M269.60,417.85 L267.19,417.85 L267.19,419.40 L269.60,419.40" fill="none" stroke="#111" stroke-width="1.0"/>
<path d="M267.19,418.62 L267.51,418.62 L267.51,420.96 L269.60,420.96" fill="none" stroke="#111" stroke-width="1.0"/>
<path d="M267.51,419.79 L268.41,419.79 L268.41,422.51 L269.60,422.51" fill="none" stroke="#111" stroke-width="1.0"/>
<path d="M266.20,414.35 L267.33,414.35 L267.33,421.15 L268.41,421.15" fill="none" stroke="#111" stroke-width="1.0"/>
<path d="M266.23,405.85 L264.04,405.85 L264.04,417.75 L267.33,417.75" fill="none" stroke="#111" stroke-width="1.0"/>
<path d="M269.60,425.62 L267.19,425.62 L267.19,427.17 L269.60,427.17" fill="none" stroke="#111" stroke-width="1.0"/>
<path d="M269.60,424.06 L266.15,424.06 L266.15,426.39 L267.19,426.39" fill="none" stroke="#111" stroke-width="1.0"/>
<path d="M264.04,411.80 L259.26,411.80 L259.26,425.23 L266.15,425.23" fill="none" stroke="#111" stroke-width="1.0"/>
<path d="M269.60,428.73 L266.12,428.73 L266.12,430.28 L269.60,430.28" fill="none" stroke="#111" stroke-width="1.0"/>
<path d="M266.12,429.50 L267.35,429.50 L267.35,431.83 L269.60,431.83" fill="none" stroke="#111" stroke-width="1.0"/>
<path d="M269.60,433.39 L267.42,433.39 L267.42,434.94 L269.60,434.94" fill="none" stroke="#111" stroke-width="1.0"/>
<path d="M269.60,436.50 L266.37,436.50 L266.37,438.05 L269.60,438.05" fill="none" stroke="#111" stroke-width="1.0"/>
<path d="M269.60,439.61 L266.55,439.61 L266.55,441.16 L269.60,441.16" fill="none" stroke="#111" stroke-width="1.0"/>
<path d="M266.37,437.27 L268.73,437.27 L268.73,440.38 L266.55,440.38" fill="none" stroke="#111" stroke-width="1.0"/>
<path d="M267.42,434.17 L267.34,434.17 L267.34,438.83 L268.73,438.83" fill="none" stroke="#111" stroke-width="1.0"/>
<path d="M267.35,430.67 L265.09,430.67 L265.09,436.50 L267.34,436.50" fill="none" stroke="#111" stroke-width="1.0"/>
<path d="M269.60,442.71 L267.37,442.71 L267.37,444.27 L269.60,444.27" fill="none" stroke="#111" stroke-width="1.0"/>
<path d="M269.60,445.82 L266.72,445.82 L266.72,447.38 L269.60,447.38" fill="none" stroke="#111" stroke-width="1.0"/>
<path d="M266.72,446.60 L266.56,446.60 L266.56,448.93 L269.60,448.93" fill="none" stroke="#111" stroke-width="1.0"/>
<path d="M269.60,450.49 L266.94,450.49 L266.94,452.04 L269.60,452.04" fill="none" stroke="#111" stroke-width="1.0"/>
<path d="M266.94,451.26 L266.80,451.26 L266.80,453.59 L269.60,453.59" fill="none" stroke="#111" stroke-width="1.0"/>
<path d="M266.56,447.77 L268.24,447.77 L268.24,452.43 L266.80,452.43" fill="none" stroke="#111" stroke-width="1.0"/>
<path d="M267.37,443.49 L266.34,443.49 L266.34,450.10 L268.24,450.10" fill="none" stroke="#111" stroke-width="1.0"/>
<path d="M265.09,433.58 L261.87,433.58 L261.87,446.79 L266.34,446.79" fill="none" stroke="#111" stroke-width="1.0"/>
<path d="M259.26,418.51 L254.40,418.51 L254.40,440.19 L261.87,440.19" fill="none" stroke="#111" stroke-width="1.0"/>
<path d="M269.60,456.70 L266.81,456.70 L266.81,458.26 L269.60,458.26" fill="none" stroke="#111" stroke-width="1.0"/>
<path d="M269.60,459.81 L266.62,459.81 L266.62,461.36 L269.60,461.36" fill="none" stroke="#111" stroke-width="1.0"/>
<path d="M266.81,457.48 L268.41,457.48 L268.41,460.59 L266.62,460.59" fill="none" stroke="#111" stroke-width="1.0"/>
<path d="M269.60,455.15 L266.89,455.15 L266.89,459.03 L268.41,459.03" fill="none" stroke="#111" stroke-width="1.0"/>
<path d="M269.60,464.47 L266.19,464.47 L266.19,466.03 L269.60,466.03" fill="none" stroke="#111" stroke-width="1.0"/>
<path d="M269.60,462.92 L266.36,462.92 L266.36,465.25 L266.19,465.25" fill="none" stroke="#111" stroke-width="1.0"/>
<path d="M269.60,467.58 L266.43,467.58 L266.43,469.14 L269.60,469.14" fill="none" stroke="#111" stroke-width="1.0"/>
<path d="M269.60,472.24 L266.64,472.24 L266.64,473.80 L269.60,473.80" fill="none" stroke="#111" stroke-width="1.0"/>
<path d="M266.64,473.02 L266.66,473.02 L266.66,475.35 L269.60,475.35" fill="none" stroke="#111" stroke-width="1.0"/>
<path d="M269.60,470.69 L269.18,470.69 L269.18,474.19 L266.66,474.19" fill="none" stroke="#111" stroke-width="1.0"/>
<path d="M266.43,468.36 L268.30,468.36 L268.30,472.44 L269.18,472.44" fill="none" stroke="#111" stroke-width="1.0"/>
<path d="M266.36,464.08 L266.97,464.08 L266.97,470.40 L268.30,470.40" fill="none" stroke="#111" stroke-width="1.0"/>
<path d="M266.89,457.09 L262.34,457.09 L262.34,467.24 L266.97,467.24" fill="none" stroke="#111" stroke-width="1.0"/>
<path d="M269.60,476.91 L266.55,476.91 L266.55,478.46 L269.60,478.46" fill="none" stroke="#111" stroke-width="1.0"/>
<path d="M269.60,480.01 L267.22,480.01 L267.22,481.57 L269.60,481.57" fill="none" stroke="#111" stroke-width="1.0"/>
<path d="M269.60,483.12 L266.73,483.12 L266.73,484.68 L269.60,484.68" fill="none" stroke="#111" stroke-width="1.0"/>
<path d="M267.22,480.79 L268.90,480.79 L268.90,483.90 L266.73,483.90" fill="none" stroke="#111" stroke-width="1.0"/>
<path d="M269.60,486.23 L267.99,486.23 L267.99,487.79 L269.60,487.79" fill="none" stroke="#111" stroke-width="1.0"/>
<path d="M269.60,489.34 L267.74,489.34 L267.74,490.89 L269.60,490.89" fill="none" stroke="#111" stroke-width="1.0"/>
<path d="M267.99,487.01 L269.30,487.01 L269.30,490.12 L267.74,490.12" fill="none" stroke="#111" stroke-width="1.0"/>
<path d="M269.30,488.56 L269.11,488.56 L269.11,492.45 L269.60,492.45" fill="none" stroke="#111" stroke-width="1.0"/>
<path d="M268.90,482.35 L268.51,482.35 L268.51,490.51 L269.11,490.51" fill="none" stroke="#111" stroke-width="1.0"/>
<path d="M266.55,477.68 L267.15,477.68 L267.15,486.43 L268.51,486.43" fill="none" stroke="#111" stroke-width="1.0"/>
<path d="M267.15,482.05 L263.94,482.05 L263.94,494.00 L269.60,494.00" fill="none" stroke="#111" stroke-width="1.0"/>
<path d="M262.34,462.17 L257.50,462.17 L257.50,488.03 L263.94,488.03" fill="none" stroke="#111" stroke-width="1.0"/>
<path d="M269.60,497.11 L267.54,497.11 L267.54,498.67 L269.60,498.67" fill="none" stroke="#111" stroke-width="1.0"/>
<path d="M267.54,497.89 L266.29,497.89 L266.29,500.22 L269.60,500.22" fill="none" stroke="#111" stroke-width="1.0"/>
<path d="M269.60,495.56 L267.54,495.56 L267.54,499.05 L266.29,499.05" fill="none" stroke="#111" stroke-width="1.0"/>
<path d="M269.60,501.77 L267.42,501.77 L267.42,503.33 L269.60,503.33" fill="none" stroke="#111" stroke-width="1.0"/>
<path d="M269.60,504.88 L266.46,504.88 L266.46,506.44 L269.60,506.44" fill="none" stroke="#111" stroke-width="1.0"/>
<path d="M267.42,502.55 L269.27,502.55 L269.27,505.66 L266.46,505.66" fill="none" stroke="#111" stroke-width="1.0"/>
<path d="M269.60,509.54 L267.82,509.54 L267.82,511.10 L269.60,511.10" fill="none" stroke="#111" stroke-width="1.0"/>
<path d="M269.60,507.99 L267.36,507.99 L267.36,510.32 L267.82,510.32" fill="none" stroke="#111" stroke-width="1.0"/>
<path d="M269.60,512.65 L266.19,512.65 L266.19,514.21 L269.60,514.21" fill="none" stroke="#111" stroke-width="1.0"/>
<path d="M267.36,509.16 L269.23,509.16 L269.23,513.43 L266.19,513.43" fill="none" stroke="#111" stroke-width="1.0"/>
<path d="M269.27,504.11 L268.91,504.11 L268.91,511.29 L269.23,511.29" fill="none" stroke="#111" stroke-width="1.0"/>
<path d="M269.60,515.76 L266.16,515.76 L266.16,517.32 L269.60,517.32" fill="none" stroke="#111" stroke-width="1.0"/>
<path d="M268.91,507.70 L268.59,507.70 L268.59,516.54 L266.16,516.54" fill="none" stroke="#111" stroke-width="1.0"/>
<path d="M269.60,518.87 L266.31,518.87 L266.31,520.42 L269.60,520.42" fill="none" stroke="#111" stroke-width="1.0"/>
<path d="M268.59,512.12 L267.77,512.12 L267.77,519.65 L266.31,519.65" fill="none" stroke="#111" stroke-width="1.0"/>
<path d="M267.54,497.31 L266.19,497.31 L266.19,515.88 L267.77,515.88" fill="none" stroke="#111" stroke-width="1.0"/>
<path d="M269.60,525.09 L267.34,525.09 L267.34,526.64 L269.60,526.64" fill="none" stroke="#111" stroke-width="1.0"/>
<path d="M267.34,525.86 L266.16,525.86 L266.16,528.20 L269.60,528.20" fill="none" stroke="#111" stroke-width="1.0"/>
<path d="M269.60,531.30 L267.58,531.30 L267.58,532.86 L269.60,532.86" fill="none" stroke="#111" stroke-width="1.0"/>
<path d="M269.60,529.75 L266.91,529.75 L266.91,532.08 L267.58,532.08" fill="none" stroke="#111" stroke-width="1.0"/>
<path d="M266.16,527.03 L269.23,527.03 L269.23,530.92 L266.91,530.92" fill="none" stroke="#111" stroke-width="1.0"/>
<path d="M269.60,523.53 L268.90,523.53 L268.90,528.97 L269.23,528.97" fill="none" stroke="#111" stroke-width="1.0"/>
<path d="M269.60,521.98 L268.33,521.98 L268.33,526.25 L268.90,526.25" fill="none" stroke="#111" stroke-width="1.0"/>
<path d="M269.60,535.97 L267.46,535.97 L267.46,537.52 L269.60,537.52" fill="none" stroke="#111" stroke-width="1.0"/>
<path d="M269.60,534.41 L267.27,534.41 L267.27,536.74 L267.46,536.74" fill="none" stroke="#111" stroke-width="1.0"/>
<path d="M268.33,524.12 L267.63,524.12 L267.63,535.58 L267.27,535.58" fill="none" stroke="#111" stroke-width="1.0"/>
<path d="M269.60,540.63 L267.15,540.63 L267.15,542.18 L269.60,542.18" fill="none" stroke="#111" stroke-width="1.0"/>
<path d="M269.60,539.08 L267.53,539.08 L267.53,541.41 L267.15,541.41" fill="none" stroke="#111" stroke-width="1.0"/>
<path d="M267.63,529.85 L265.25,529.85 L265.25,540.24 L267.53,540.24" fill="none" stroke="#111" stroke-width="1.0"/>
<path d="M266.19,506.59 L263.38,506.59 L263.38,535.04 L265.25,535.04" fill="none" stroke="#111" stroke-width="1.0"/>
<path d="M269.60,545.29 L266.12,545.29 L266.12,546.85 L269.60,546.85" fill="none" stroke="#111" stroke-width="1.0"/>
<path d="M269.60,548.40 L267.51,548.40 L267.51,549.95 L269.60,549.95" fill="none" stroke="#111" stroke-width="1.0"/>
<path d="M266.12,546.07 L269.31,546.07 L269.31,549.18 L267.51,549.18" fill="none" stroke="#111" stroke-width="1.0"/>
<path d="M269.31,547.62 L269.12,547.62 L269.12,551.51 L269.60,551.51" fill="none" stroke="#111" stroke-width="1.0"/>
<path d="M269.60,553.06 L266.89,553.06 L266.89,554.62 L269.60,554.62" fill="none" stroke="#111" stroke-width="1.0"/>
<path d="M269.60,556.17 L267.50,556.17 L267.50,557.73 L269.60,557.73" fill="none" stroke="#111" stroke-width="1.0"/>
<path d="M269.60,560.83 L267.04,560.83 L267.04,562.39 L269.60,562.39" fill="none" stroke="#111" stroke-width="1.0"/>
<path d="M269.60,559.28 L267.51,559.28 L267.51,561.61 L267.04,561.61" fill="none" stroke="#111" stroke-width="1.0"/>
<path d="M267.50,556.95 L269.38,556.95 L269.38,560.45 L267.51,560.45" fill="none" stroke="#111" stroke-width="1.0"/>
<path d="M266.89,553.84 L269.05,553.84 L269.05,558.70 L269.38,558.70" fill="none" stroke="#111" stroke-width="1.0"/>
<path d="M269.12,549.57 L268.35,549.57 L268.35,556.27 L269.05,556.27" fill="none" stroke="#111" stroke-width="1.0"/>
<path d="M269.60,543.74 L267.04,543.74 L267.04,552.92 L268.35,552.92" fill="none" stroke="#111" stroke-width="1.0"/>
<path d="M269.60,563.94 L266.27,563.94 L266.27,565.50 L269.60,565.50" fill="none" stroke="#111" stroke-width="1.0"/>
<path d="M266.27,564.72 L267.19,564.72 L267.19,567.05 L269.60,567.05" fill="none" stroke="#111" stroke-width="1.0"/>
<path d="M269.60,568.61 L268.07,568.61 L268.07,570.16 L269.60,570.16" fill="none" stroke="#111" stroke-width="1.0"/>
<path d="M267.19,565.89 L268.91,565.89 L268.91,569.38 L268.07,569.38" fill="none" stroke="#111" stroke-width="1.0"/>
<path d="M269.60,573.27 L266.84,573.27 L266.84,574.82 L269.60,574.82" fill="none" stroke="#111" stroke-width="1.0"/>
<path d="M266.84,574.04 L266.68,574.04 L266.68,576.38 L269.60,576.38" fill="none" stroke="#111" stroke-width="1.0"/>
<path d="M269.60,571.71 L269.02,571.71 L269.02,575.21 L266.68,575.21" fill="none" stroke="#111" stroke-width="1.0"/>
<path d="M268.91,567.63 L268.12,567.63 L268.12,573.46 L269.02,573.46" fill="none" stroke="#111" stroke-width="1.0"/>
<path d="M267.04,548.33 L265.91,548.33 L265.91,570.55 L268.12,570.55" fill="none" stroke="#111" stroke-width="1.0"/>
<path d="M269.60,577.93 L267.51,577.93 L267.51,579.48 L269.60,579.48" fill="none" stroke="#111" stroke-width="1.0"/>
<path d="M269.60,581.04 L266.44,581.04 L266.44,582.59 L269.60,582.59" fill="none" stroke="#111" stroke-width="1.0"/>
<path d="M267.51,578.71 L267.72,578.71 L267.72,581.82 L266.44,581.82" fill="none" stroke="#111" stroke-width="1.0"/>
<path d="M269.60,584.15 L267.23,584.15 L267.23,585.70 L269.60,585.70" fill="none" stroke="#111" stroke-width="1.0"/>
<path d="M267.23,584.92 L266.71,584.92 L266.71,587.26 L269.60,587.26" fill="none" stroke="#111" stroke-width="1.0"/>
<path d="M267.72,580.26 L266.15,580.26 L266.15,586.09 L266.71,586.09" fill="none" stroke="#111" stroke-width="1.0"/>
<path d="M265.91,559.44 L263.28,559.44 L263.28,583.18 L266.15,583.18" fill="none" stroke="#111" stroke-width="1.0"/>
<path d="M263.38,520.82 L257.50,520.82 L257.50,571.31 L263.28,571.31" fill="none" stroke="#111" stroke-width="1.0"/>
<path d="M269.60,588.81 L266.48,588.81 L266.48,590.36 L269.60,590.36" fill="none" stroke="#111" stroke-width="1.0"/>
<path d="M266.48,589.59 L266.93,589.59 L266.93,591.92 L269.60,591.92" fill="none" stroke="#111" stroke-width="1.0"/>
<path d="M269.60,593.47 L266.52,593.47 L266.52,595.03 L269.60,595.03" fill="none" stroke="#111" stroke-width="1.0"/>
<path d="M269.60,596.58 L266.65,596.58 L266.65,598.13 L269.60,598.13" fill="none" stroke="#111" stroke-width="1.0"/>
<path d="M266.52,594.25 L269.33,594.25 L269.33,597.36 L266.65,597.36" fill="none" stroke="#111" stroke-width="1.0"/>
<path d="M266.93,590.75 L268.87,590.75 L268.87,595.80 L269.33,595.80" fill="none" stroke="#111" stroke-width="1.0"/>
<path d="M269.60,599.69 L268.00,599.69 L268.00,601.24 L269.60,601.24" fill="none" stroke="#111" stroke-width="1.0"/>
<path d="M268.00,600.47 L266.14,600.47 L266.14,602.80 L269.60,602.80" fill="none" stroke="#111" stroke-width="1.0"/>
<path d="M268.87,593.28 L268.15,593.28 L268.15,601.63 L266.14,601.63" fill="none" stroke="#111" stroke-width="1.0"/>
<path d="M269.60,604.35 L266.68,604.35 L266.68,605.91 L269.60,605.91" fill="none" stroke="#111" stroke-width="1.0"/>
<path d="M266.68,605.13 L266.20,605.13 L266.20,607.46 L269.60,607.46" fill="none" stroke="#111" stroke-width="1.0"/>
<path d="M269.60,609.01 L266.26,609.01 L266.26,610.57 L269.60,610.57" fill="none" stroke="#111" stroke-width="1.0"/>
<path d="M266.20,606.29 L268.50,606.29 L268.50,609.79 L266.26,609.79" fill="none" stroke="#111" stroke-width="1.0"/>
<path d="M268.15,597.46 L266.58,597.46 L266.58,608.04 L268.50,608.04" fill="none" stroke="#111" stroke-width="1.0"/>
<path d="M266.58,602.75 L260.60,602.75 L260.60,612.12 L269.60,612.12" fill="none" stroke="#111" stroke-width="1.0"/>
<path d="M257.50,523.00 L255.00,523.00 L255.00,598.10 L260.60,598.10" fill="none" stroke="#111" stroke-width="1.0"/>
<path d="M257.50,475.00 L248.90,475.00 L248.90,561.00 L255.00,561.00" fill="none" stroke="#111" stroke-width="1.0"/>
<path d="M254.40,438.10 L245.00,438.10 L245.00,517.80 L248.90,517.80" fill="none" stroke="#111" stroke-width="1.0"/>
<path d="M251.90,394.40 L241.25,394.40 L241.25,478.40 L245.00,478.40" fill="none" stroke="#111" stroke-width="1.0"/>
<path d="M246.40,344.30 L214.75,344.30 L214.75,436.00 L241.25,436.00" fill="none" stroke="#111" stroke-width="1.0"/>
<line x1="268.70" y1="318.10" x2="268.70" y2="612.40" stroke="#111" stroke-width="1.3" />
<text x="428.60" y="322.60" font-size="7.4" text-anchor="start" fill="#222" stroke="#222" stroke-width="0.15" font-style="italic" >Bach2</text>
<text x="428.60" y="332.80" font-size="7.4" text-anchor="start" fill="#222" stroke="#222" stroke-width="0.15" font-style="italic" >Tcf7</text>
<text x="428.60" y="350.50" font-size="7.4" text-anchor="start" fill="#222" stroke="#222" stroke-width="0.15" font-style="italic" >Cd83</text>
<text x="428.60" y="364.90" font-size="7.4" text-anchor="start" fill="#222" stroke="#222" stroke-width="0.15" font-style="italic" >Sell</text>
<text x="428.60" y="372.60" font-size="7.4" text-anchor="start" fill="#222" stroke="#222" stroke-width="0.15" font-style="italic" >Nrp1</text>
<text x="428.60" y="380.70" font-size="7.4" text-anchor="start" fill="#222" stroke="#222" stroke-width="0.15" font-style="italic" >Bcl2</text>
<text x="428.60" y="415.30" font-size="7.4" text-anchor="start" fill="#222" stroke="#222" stroke-width="0.15" font-style="italic" >Gata3</text>
<text x="428.60" y="429.20" font-size="7.4" text-anchor="start" fill="#222" stroke="#222" stroke-width="0.15" font-style="italic" >Pdcd1</text>
<text x="428.60" y="443.70" font-size="7.4" text-anchor="start" fill="#222" stroke="#222" stroke-width="0.15" font-style="italic" >Il18rap</text>
<text x="428.60" y="460.40" font-size="7.4" text-anchor="start" fill="#222" stroke="#222" stroke-width="0.15" font-style="italic" >Prdm1</text>
<text x="428.60" y="468.00" font-size="7.4" text-anchor="start" fill="#222" stroke="#222" stroke-width="0.15" font-style="italic" >Klrg1</text>
<text x="428.60" y="476.60" font-size="7.4" text-anchor="start" fill="#222" stroke="#222" stroke-width="0.15" font-style="italic" >Tnfrsf4</text>
<text x="428.60" y="483.70" font-size="7.4" text-anchor="start" fill="#222" stroke="#222" stroke-width="0.15" font-style="italic" >Gzma</text>
<text x="428.60" y="491.30" font-size="7.4" text-anchor="start" fill="#222" stroke="#222" stroke-width="0.15" font-style="italic" >Icos</text>
<text x="428.60" y="498.20" font-size="7.4" text-anchor="start" fill="#222" stroke="#222" stroke-width="0.15" font-style="italic" >Ccr2</text>
<text x="428.60" y="511.10" font-size="7.4" text-anchor="start" fill="#222" stroke="#222" stroke-width="0.15" font-style="italic" >Lgals1</text>
<text x="428.60" y="521.80" font-size="7.4" text-anchor="start" fill="#222" stroke="#222" stroke-width="0.15" font-style="italic" >S100a4</text>
<text x="428.60" y="539.00" font-size="7.4" text-anchor="start" fill="#222" stroke="#222" stroke-width="0.15" font-style="italic" >Gzmb</text>
<text x="428.60" y="569.80" font-size="7.4" text-anchor="start" fill="#222" stroke="#222" stroke-width="0.15" font-style="italic" >Tnfrsf9</text>
<text x="468.00" y="337.80" font-size="10" text-anchor="start" fill="#1a1a1a" stroke="#1a1a1a" stroke-width="0.3" textLength="31.2" lengthAdjust="spacingAndGlyphs" >sample</text>
<rect x="470.40" y="345.40" width="9.20" height="9.20" fill="#a47fb1" stroke="none" stroke-width="1" />
<rect x="470.40" y="359.00" width="9.20" height="9.20" fill="#5b1f6c" stroke="none" stroke-width="1" />
<text x="483.00" y="352.90" font-size="7.6" text-anchor="start" fill="#333" stroke="#333" stroke-width="0.3" >Day 0 Treg</text>
<text x="483.00" y="366.30" font-size="7.6" text-anchor="start" fill="#333" stroke="#333" stroke-width="0.3" >Day 8 Treg</text>
<defs><linearGradient id="cbar" x1="0" y1="0" x2="0" y2="1"><stop offset="0" stop-color="#67001f"/><stop offset="0.1" stop-color="#b2182b"/><stop offset="0.25" stop-color="#d6604d"/><stop offset="0.37" stop-color="#f4a582"/><stop offset="0.45" stop-color="#fddbc7"/><stop offset="0.5" stop-color="#f7f7f7"/><stop offset="0.55" stop-color="#d1e5f0"/><stop offset="0.63" stop-color="#92c5de"/><stop offset="0.75" stop-color="#4393c3"/><stop offset="0.9" stop-color="#2166ac"/><stop offset="1" stop-color="#053061"/></linearGradient></defs>
<rect x="470.90" y="383.90" width="5.20" height="73.60" fill="url(#cbar)" stroke="none" stroke-width="1" />
<text x="479.30" y="389.90" font-size="7.8" text-anchor="start" fill="#333" stroke="#333" stroke-width="0.3" >1.5</text>
<text x="479.30" y="401.30" font-size="7.8" text-anchor="start" fill="#333" stroke="#333" stroke-width="0.3" >1</text>
<text x="479.30" y="412.10" font-size="7.8" text-anchor="start" fill="#333" stroke="#333" stroke-width="0.3" >0.5</text>
<text x="479.30" y="423.20" font-size="7.8" text-anchor="start" fill="#333" stroke="#333" stroke-width="0.3" >0</text>
<text x="479.30" y="434.30" font-size="7.8" text-anchor="start" fill="#333" stroke="#333" stroke-width="0.3" >&#8722;0.5</text>
<text x="479.30" y="445.70" font-size="7.8" text-anchor="start" fill="#333" stroke="#333" stroke-width="0.3" >&#8722;1</text>
<text x="479.30" y="456.50" font-size="7.8" text-anchor="start" fill="#333" stroke="#333" stroke-width="0.3" >&#8722;1.5</text>
</svg></body></html>
